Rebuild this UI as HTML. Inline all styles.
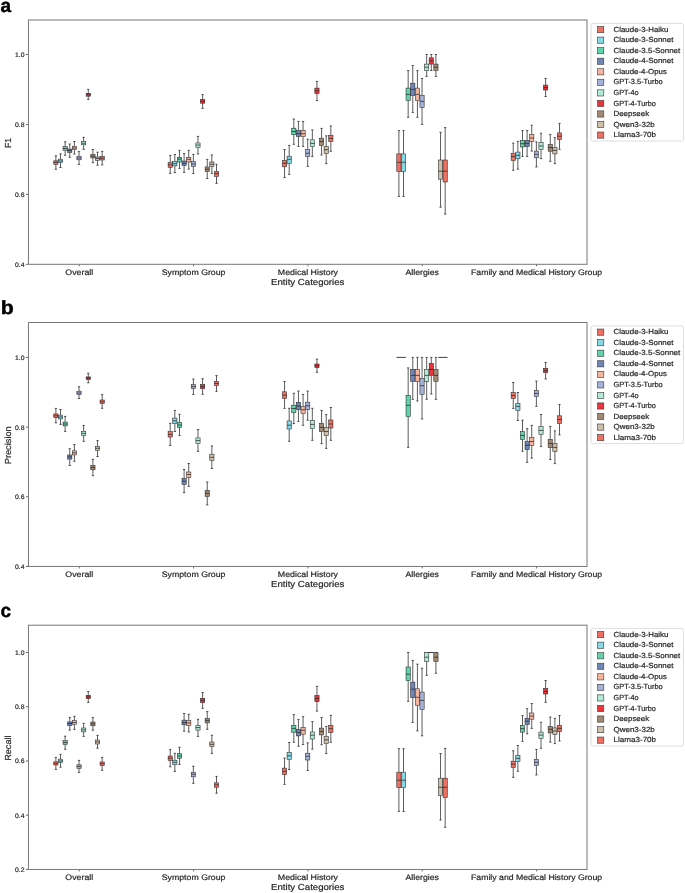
<!DOCTYPE html><html><head><meta charset="utf-8"><style>html,body{margin:0;padding:0;background:#fff;width:685px;height:893px;overflow:hidden}svg{display:block;will-change:transform}text{font-family:"Liberation Sans",sans-serif;fill:#262626;text-rendering:geometricPrecision}</style></head><body>
<svg width="685" height="893" viewBox="0 0 685 893">
<rect x="0" y="0" width="685" height="893" fill="#fff"/>
<text x="0.5" y="11.75" style="font-size:19px;font-weight:700;fill:#000;stroke:#000;stroke-width:0.45px">a</text>
<line x1="25.9" y1="264.30" x2="28.45" y2="264.30" stroke="#444" stroke-width="0.8"/>
<text x="24.50" y="266.75" text-anchor="end" textLength="9.46" lengthAdjust="spacingAndGlyphs" style="font-size:6.55px;stroke:#262626;stroke-width:0.2px">0.4</text>
<line x1="25.9" y1="194.37" x2="28.45" y2="194.37" stroke="#444" stroke-width="0.8"/>
<text x="24.50" y="196.82" text-anchor="end" textLength="9.46" lengthAdjust="spacingAndGlyphs" style="font-size:6.55px;stroke:#262626;stroke-width:0.2px">0.6</text>
<line x1="25.9" y1="124.43" x2="28.45" y2="124.43" stroke="#444" stroke-width="0.8"/>
<text x="24.50" y="126.88" text-anchor="end" textLength="9.46" lengthAdjust="spacingAndGlyphs" style="font-size:6.55px;stroke:#262626;stroke-width:0.2px">0.8</text>
<line x1="25.9" y1="54.50" x2="28.45" y2="54.50" stroke="#444" stroke-width="0.8"/>
<text x="24.50" y="56.95" text-anchor="end" textLength="9.46" lengthAdjust="spacingAndGlyphs" style="font-size:6.55px;stroke:#262626;stroke-width:0.2px">1.0</text>
<text transform="translate(11.30,142.95) rotate(-90)" text-anchor="middle" textLength="10.30" lengthAdjust="spacingAndGlyphs" style="font-size:8.76px;stroke:#262626;stroke-width:0.2px">F1</text>
<line x1="79.26" y1="264.3" x2="79.26" y2="266.30" stroke="#444" stroke-width="0.8"/>
<text x="79.26" y="274.75" text-anchor="middle" textLength="27.88" lengthAdjust="spacingAndGlyphs" style="font-size:8.03px;stroke:#262626;stroke-width:0.2px">Overall</text>
<line x1="193.59" y1="264.3" x2="193.59" y2="266.30" stroke="#444" stroke-width="0.8"/>
<text x="193.59" y="274.75" text-anchor="middle" textLength="63.77" lengthAdjust="spacingAndGlyphs" style="font-size:8.03px;stroke:#262626;stroke-width:0.2px">Symptom Group</text>
<line x1="307.92" y1="264.3" x2="307.92" y2="266.30" stroke="#444" stroke-width="0.8"/>
<text x="307.92" y="274.75" text-anchor="middle" textLength="60.11" lengthAdjust="spacingAndGlyphs" style="font-size:8.03px;stroke:#262626;stroke-width:0.2px">Medical History</text>
<line x1="422.25" y1="264.3" x2="422.25" y2="266.30" stroke="#444" stroke-width="0.8"/>
<text x="422.25" y="274.75" text-anchor="middle" textLength="33.52" lengthAdjust="spacingAndGlyphs" style="font-size:8.03px;stroke:#262626;stroke-width:0.2px">Allergies</text>
<line x1="536.58" y1="264.3" x2="536.58" y2="266.30" stroke="#444" stroke-width="0.8"/>
<text x="536.58" y="274.75" text-anchor="middle" textLength="131.07" lengthAdjust="spacingAndGlyphs" style="font-size:8.03px;stroke:#262626;stroke-width:0.2px">Family and Medical History Group</text>
<text x="307.73" y="284.70" text-anchor="middle" textLength="73.33" lengthAdjust="spacingAndGlyphs" style="font-size:8.76px;stroke:#262626;stroke-width:0.2px">Entity Categories</text>
<g stroke="#262626" stroke-width="0.75" fill="none"><line x1="55.88" y1="155.8" x2="55.88" y2="160.8"/><line x1="55.88" y1="164.3" x2="55.88" y2="169.3"/><line x1="54.73" y1="155.8" x2="57.03" y2="155.8"/><line x1="54.73" y1="169.3" x2="57.03" y2="169.3"/><rect x="53.75" y="160.8" width="4.25" height="3.50" fill="#ec7163" stroke-width="0.55"/><line x1="53.75" y1="162.4" x2="58.00" y2="162.4" stroke-width="0.75"/></g>
<g stroke="#262626" stroke-width="0.75" fill="none"><line x1="60.51" y1="153.9" x2="60.51" y2="159.2"/><line x1="60.51" y1="162.7" x2="60.51" y2="167.5"/><line x1="59.36" y1="153.9" x2="61.66" y2="153.9"/><line x1="59.36" y1="167.5" x2="61.66" y2="167.5"/><rect x="58.38" y="159.2" width="4.25" height="3.50" fill="#86d8e4" stroke-width="0.55"/><line x1="58.38" y1="161.0" x2="62.63" y2="161.0" stroke-width="0.75"/></g>
<g stroke="#262626" stroke-width="0.75" fill="none"><line x1="65.14" y1="141.8" x2="65.14" y2="146.7"/><line x1="65.14" y1="150.3" x2="65.14" y2="155.3"/><line x1="63.99" y1="141.8" x2="66.29" y2="141.8"/><line x1="63.99" y1="155.3" x2="66.29" y2="155.3"/><rect x="63.01" y="146.7" width="4.25" height="3.60" fill="#62d2aa" stroke-width="0.55"/><line x1="63.01" y1="148.5" x2="67.26" y2="148.5" stroke-width="0.75"/></g>
<g stroke="#262626" stroke-width="0.75" fill="none"><line x1="69.76" y1="144.0" x2="69.76" y2="149.1"/><line x1="69.76" y1="152.4" x2="69.76" y2="157.3"/><line x1="68.61" y1="144.0" x2="70.91" y2="144.0"/><line x1="68.61" y1="157.3" x2="70.91" y2="157.3"/><rect x="67.64" y="149.1" width="4.25" height="3.30" fill="#6e85b6" stroke-width="0.55"/><line x1="67.64" y1="150.6" x2="71.89" y2="150.6" stroke-width="0.75"/></g>
<g stroke="#262626" stroke-width="0.75" fill="none"><line x1="74.39" y1="141.5" x2="74.39" y2="146.4"/><line x1="74.39" y1="149.5" x2="74.39" y2="154.0"/><line x1="73.24" y1="141.5" x2="75.54" y2="141.5"/><line x1="73.24" y1="154.0" x2="75.54" y2="154.0"/><rect x="72.27" y="146.4" width="4.25" height="3.10" fill="#f4b5a0" stroke-width="0.55"/><line x1="72.27" y1="148.1" x2="76.52" y2="148.1" stroke-width="0.75"/></g>
<g stroke="#262626" stroke-width="0.75" fill="none"><line x1="79.02" y1="151.6" x2="79.02" y2="156.2"/><line x1="79.02" y1="159.8" x2="79.02" y2="164.4"/><line x1="77.87" y1="151.6" x2="80.17" y2="151.6"/><line x1="77.87" y1="164.4" x2="80.17" y2="164.4"/><rect x="76.89" y="156.2" width="4.25" height="3.60" fill="#a6b2d8" stroke-width="0.55"/><line x1="76.89" y1="158.0" x2="81.14" y2="158.0" stroke-width="0.75"/></g>
<g stroke="#262626" stroke-width="0.75" fill="none"><line x1="83.65" y1="137.3" x2="83.65" y2="141.5"/><line x1="83.65" y1="144.8" x2="83.65" y2="149.4"/><line x1="82.50" y1="137.3" x2="84.80" y2="137.3"/><line x1="82.50" y1="149.4" x2="84.80" y2="149.4"/><rect x="81.52" y="141.5" width="4.25" height="3.30" fill="#b2e8d8" stroke-width="0.55"/><line x1="81.52" y1="143.2" x2="85.77" y2="143.2" stroke-width="0.75"/></g>
<g stroke="#262626" stroke-width="0.75" fill="none"><line x1="88.28" y1="89.4" x2="88.28" y2="93.25"/><line x1="88.28" y1="96.2" x2="88.28" y2="99.4"/><line x1="87.13" y1="89.4" x2="89.43" y2="89.4"/><line x1="87.13" y1="99.4" x2="89.43" y2="99.4"/><rect x="86.15" y="93.25" width="4.25" height="2.95" fill="#e6363c" stroke-width="0.55"/><line x1="86.15" y1="94.7" x2="90.40" y2="94.7" stroke-width="0.75"/></g>
<g stroke="#262626" stroke-width="0.75" fill="none"><line x1="92.90" y1="149.5" x2="92.90" y2="154.6"/><line x1="92.90" y1="157.9" x2="92.90" y2="162.6"/><line x1="91.75" y1="149.5" x2="94.05" y2="149.5"/><line x1="91.75" y1="162.6" x2="94.05" y2="162.6"/><rect x="90.78" y="154.6" width="4.25" height="3.30" fill="#a08a76" stroke-width="0.55"/><line x1="90.78" y1="156.2" x2="95.03" y2="156.2" stroke-width="0.75"/></g>
<g stroke="#262626" stroke-width="0.75" fill="none"><line x1="97.53" y1="152.2" x2="97.53" y2="157.0"/><line x1="97.53" y1="160.3" x2="97.53" y2="165.2"/><line x1="96.38" y1="152.2" x2="98.68" y2="152.2"/><line x1="96.38" y1="165.2" x2="98.68" y2="165.2"/><rect x="95.41" y="157.0" width="4.25" height="3.30" fill="#cdbfaa" stroke-width="0.55"/><line x1="95.41" y1="158.5" x2="99.66" y2="158.5" stroke-width="0.75"/></g>
<g stroke="#262626" stroke-width="0.75" fill="none"><line x1="102.16" y1="151.4" x2="102.16" y2="156.5"/><line x1="102.16" y1="160.0" x2="102.16" y2="164.9"/><line x1="101.01" y1="151.4" x2="103.31" y2="151.4"/><line x1="101.01" y1="164.9" x2="103.31" y2="164.9"/><rect x="100.03" y="156.5" width="4.25" height="3.50" fill="#ec7163" stroke-width="0.55"/><line x1="100.03" y1="158.1" x2="104.28" y2="158.1" stroke-width="0.75"/></g>
<g stroke="#262626" stroke-width="0.75" fill="none"><line x1="170.22" y1="155.4" x2="170.22" y2="162.7"/><line x1="170.22" y1="167.3" x2="170.22" y2="173.4"/><line x1="169.07" y1="155.4" x2="171.37" y2="155.4"/><line x1="169.07" y1="173.4" x2="171.37" y2="173.4"/><rect x="168.10" y="162.7" width="4.25" height="4.60" fill="#ec7163" stroke-width="0.55"/><line x1="168.10" y1="164.9" x2="172.35" y2="164.9" stroke-width="0.75"/></g>
<g stroke="#262626" stroke-width="0.75" fill="none"><line x1="174.85" y1="154.5" x2="174.85" y2="161.4"/><line x1="174.85" y1="165.9" x2="174.85" y2="172.6"/><line x1="173.70" y1="154.5" x2="176.00" y2="154.5"/><line x1="173.70" y1="172.6" x2="176.00" y2="172.6"/><rect x="172.72" y="161.4" width="4.25" height="4.50" fill="#86d8e4" stroke-width="0.55"/><line x1="172.72" y1="163.7" x2="176.97" y2="163.7" stroke-width="0.75"/></g>
<g stroke="#262626" stroke-width="0.75" fill="none"><line x1="179.48" y1="150.4" x2="179.48" y2="157.3"/><line x1="179.48" y1="162.0" x2="179.48" y2="168.4"/><line x1="178.33" y1="150.4" x2="180.63" y2="150.4"/><line x1="178.33" y1="168.4" x2="180.63" y2="168.4"/><rect x="177.35" y="157.3" width="4.25" height="4.70" fill="#62d2aa" stroke-width="0.55"/><line x1="177.35" y1="159.1" x2="181.60" y2="159.1" stroke-width="0.75"/></g>
<g stroke="#262626" stroke-width="0.75" fill="none"><line x1="184.10" y1="153.5" x2="184.10" y2="161.0"/><line x1="184.10" y1="165.6" x2="184.10" y2="172.4"/><line x1="182.95" y1="153.5" x2="185.25" y2="153.5"/><line x1="182.95" y1="172.4" x2="185.25" y2="172.4"/><rect x="181.98" y="161.0" width="4.25" height="4.60" fill="#6e85b6" stroke-width="0.55"/><line x1="181.98" y1="163.3" x2="186.23" y2="163.3" stroke-width="0.75"/></g>
<g stroke="#262626" stroke-width="0.75" fill="none"><line x1="188.73" y1="150.4" x2="188.73" y2="157.3"/><line x1="188.73" y1="162.0" x2="188.73" y2="169.1"/><line x1="187.58" y1="150.4" x2="189.88" y2="150.4"/><line x1="187.58" y1="169.1" x2="189.88" y2="169.1"/><rect x="186.61" y="157.3" width="4.25" height="4.70" fill="#f4b5a0" stroke-width="0.55"/><line x1="186.61" y1="159.3" x2="190.86" y2="159.3" stroke-width="0.75"/></g>
<g stroke="#262626" stroke-width="0.75" fill="none"><line x1="193.36" y1="154.4" x2="193.36" y2="161.7"/><line x1="193.36" y1="166.6" x2="193.36" y2="173.5"/><line x1="192.21" y1="154.4" x2="194.51" y2="154.4"/><line x1="192.21" y1="173.5" x2="194.51" y2="173.5"/><rect x="191.24" y="161.7" width="4.25" height="4.90" fill="#a6b2d8" stroke-width="0.55"/><line x1="191.24" y1="164.0" x2="195.49" y2="164.0" stroke-width="0.75"/></g>
<g stroke="#262626" stroke-width="0.75" fill="none"><line x1="197.99" y1="136.4" x2="197.99" y2="142.9"/><line x1="197.99" y1="147.5" x2="197.99" y2="154.0"/><line x1="196.84" y1="136.4" x2="199.14" y2="136.4"/><line x1="196.84" y1="154.0" x2="199.14" y2="154.0"/><rect x="195.86" y="142.9" width="4.25" height="4.60" fill="#b2e8d8" stroke-width="0.55"/><line x1="195.86" y1="145.1" x2="200.11" y2="145.1" stroke-width="0.75"/></g>
<g stroke="#262626" stroke-width="0.75" fill="none"><line x1="202.62" y1="94.6" x2="202.62" y2="99.4"/><line x1="202.62" y1="103.2" x2="202.62" y2="108.4"/><line x1="201.47" y1="94.6" x2="203.77" y2="94.6"/><line x1="201.47" y1="108.4" x2="203.77" y2="108.4"/><rect x="200.49" y="99.4" width="4.25" height="3.80" fill="#e6363c" stroke-width="0.55"/><line x1="200.49" y1="101.4" x2="204.74" y2="101.4" stroke-width="0.75"/></g>
<g stroke="#262626" stroke-width="0.75" fill="none"><line x1="207.24" y1="159.4" x2="207.24" y2="166.9"/><line x1="207.24" y1="171.7" x2="207.24" y2="178.5"/><line x1="206.09" y1="159.4" x2="208.39" y2="159.4"/><line x1="206.09" y1="178.5" x2="208.39" y2="178.5"/><rect x="205.12" y="166.9" width="4.25" height="4.80" fill="#a08a76" stroke-width="0.55"/><line x1="205.12" y1="169.2" x2="209.37" y2="169.2" stroke-width="0.75"/></g>
<g stroke="#262626" stroke-width="0.75" fill="none"><line x1="211.87" y1="154.9" x2="211.87" y2="162.0"/><line x1="211.87" y1="166.6" x2="211.87" y2="173.4"/><line x1="210.72" y1="154.9" x2="213.02" y2="154.9"/><line x1="210.72" y1="173.4" x2="213.02" y2="173.4"/><rect x="209.75" y="162.0" width="4.25" height="4.60" fill="#cdbfaa" stroke-width="0.55"/><line x1="209.75" y1="164.2" x2="214.00" y2="164.2" stroke-width="0.75"/></g>
<g stroke="#262626" stroke-width="0.75" fill="none"><line x1="216.50" y1="164.3" x2="216.50" y2="171.5"/><line x1="216.50" y1="176.5" x2="216.50" y2="183.4"/><line x1="215.35" y1="164.3" x2="217.65" y2="164.3"/><line x1="215.35" y1="183.4" x2="217.65" y2="183.4"/><rect x="214.38" y="171.5" width="4.25" height="5.00" fill="#ec7163" stroke-width="0.55"/><line x1="214.38" y1="173.7" x2="218.62" y2="173.7" stroke-width="0.75"/></g>
<g stroke="#262626" stroke-width="0.75" fill="none"><line x1="284.56" y1="149.5" x2="284.56" y2="160.3"/><line x1="284.56" y1="166.8" x2="284.56" y2="177.5"/><line x1="283.41" y1="149.5" x2="285.71" y2="149.5"/><line x1="283.41" y1="177.5" x2="285.71" y2="177.5"/><rect x="282.44" y="160.3" width="4.25" height="6.50" fill="#ec7163" stroke-width="0.55"/><line x1="282.44" y1="163.3" x2="286.69" y2="163.3" stroke-width="0.75"/></g>
<g stroke="#262626" stroke-width="0.75" fill="none"><line x1="289.19" y1="145.4" x2="289.19" y2="156.2"/><line x1="289.19" y1="163.6" x2="289.19" y2="174.4"/><line x1="288.04" y1="145.4" x2="290.34" y2="145.4"/><line x1="288.04" y1="174.4" x2="290.34" y2="174.4"/><rect x="287.06" y="156.2" width="4.25" height="7.40" fill="#86d8e4" stroke-width="0.55"/><line x1="287.06" y1="159.3" x2="291.31" y2="159.3" stroke-width="0.75"/></g>
<g stroke="#262626" stroke-width="0.75" fill="none"><line x1="293.82" y1="119.0" x2="293.82" y2="128.2"/><line x1="293.82" y1="134.7" x2="293.82" y2="144.3"/><line x1="292.67" y1="119.0" x2="294.97" y2="119.0"/><line x1="292.67" y1="144.3" x2="294.97" y2="144.3"/><rect x="291.69" y="128.2" width="4.25" height="6.50" fill="#62d2aa" stroke-width="0.55"/><line x1="291.69" y1="131.5" x2="295.94" y2="131.5" stroke-width="0.75"/></g>
<g stroke="#262626" stroke-width="0.75" fill="none"><line x1="298.44" y1="121.4" x2="298.44" y2="130.4"/><line x1="298.44" y1="136.6" x2="298.44" y2="146.4"/><line x1="297.29" y1="121.4" x2="299.59" y2="121.4"/><line x1="297.29" y1="146.4" x2="299.59" y2="146.4"/><rect x="296.32" y="130.4" width="4.25" height="6.20" fill="#6e85b6" stroke-width="0.55"/><line x1="296.32" y1="133.7" x2="300.57" y2="133.7" stroke-width="0.75"/></g>
<g stroke="#262626" stroke-width="0.75" fill="none"><line x1="303.07" y1="121.4" x2="303.07" y2="130.4"/><line x1="303.07" y1="136.6" x2="303.07" y2="146.4"/><line x1="301.92" y1="121.4" x2="304.22" y2="121.4"/><line x1="301.92" y1="146.4" x2="304.22" y2="146.4"/><rect x="300.95" y="130.4" width="4.25" height="6.20" fill="#f4b5a0" stroke-width="0.55"/><line x1="300.95" y1="133.7" x2="305.20" y2="133.7" stroke-width="0.75"/></g>
<g stroke="#262626" stroke-width="0.75" fill="none"><line x1="307.70" y1="139.2" x2="307.70" y2="149.7"/><line x1="307.70" y1="156.6" x2="307.70" y2="166.4"/><line x1="306.55" y1="139.2" x2="308.85" y2="139.2"/><line x1="306.55" y1="166.4" x2="308.85" y2="166.4"/><rect x="305.57" y="149.7" width="4.25" height="6.90" fill="#a6b2d8" stroke-width="0.55"/><line x1="305.57" y1="153.3" x2="309.82" y2="153.3" stroke-width="0.75"/></g>
<g stroke="#262626" stroke-width="0.75" fill="none"><line x1="312.33" y1="129.9" x2="312.33" y2="139.8"/><line x1="312.33" y1="146.6" x2="312.33" y2="156.4"/><line x1="311.18" y1="129.9" x2="313.48" y2="129.9"/><line x1="311.18" y1="156.4" x2="313.48" y2="156.4"/><rect x="310.20" y="139.8" width="4.25" height="6.80" fill="#b2e8d8" stroke-width="0.55"/><line x1="310.20" y1="143.4" x2="314.45" y2="143.4" stroke-width="0.75"/></g>
<g stroke="#262626" stroke-width="0.75" fill="none"><line x1="316.96" y1="81.4" x2="316.96" y2="88.1"/><line x1="316.96" y1="93.7" x2="316.96" y2="100.6"/><line x1="315.81" y1="81.4" x2="318.11" y2="81.4"/><line x1="315.81" y1="100.6" x2="318.11" y2="100.6"/><rect x="314.83" y="88.1" width="4.25" height="5.60" fill="#e6363c" stroke-width="0.55"/><line x1="314.83" y1="90.8" x2="319.08" y2="90.8" stroke-width="0.75"/></g>
<g stroke="#262626" stroke-width="0.75" fill="none"><line x1="321.58" y1="128.4" x2="321.58" y2="138.2"/><line x1="321.58" y1="145.3" x2="321.58" y2="155.0"/><line x1="320.43" y1="128.4" x2="322.73" y2="128.4"/><line x1="320.43" y1="155.0" x2="322.73" y2="155.0"/><rect x="319.46" y="138.2" width="4.25" height="7.10" fill="#a08a76" stroke-width="0.55"/><line x1="319.46" y1="141.5" x2="323.71" y2="141.5" stroke-width="0.75"/></g>
<g stroke="#262626" stroke-width="0.75" fill="none"><line x1="326.21" y1="135.8" x2="326.21" y2="146.4"/><line x1="326.21" y1="153.5" x2="326.21" y2="163.6"/><line x1="325.06" y1="135.8" x2="327.36" y2="135.8"/><line x1="325.06" y1="163.6" x2="327.36" y2="163.6"/><rect x="324.09" y="146.4" width="4.25" height="7.10" fill="#cdbfaa" stroke-width="0.55"/><line x1="324.09" y1="149.7" x2="328.34" y2="149.7" stroke-width="0.75"/></g>
<g stroke="#262626" stroke-width="0.75" fill="none"><line x1="330.84" y1="126.0" x2="330.84" y2="135.3"/><line x1="330.84" y1="141.5" x2="330.84" y2="151.3"/><line x1="329.69" y1="126.0" x2="331.99" y2="126.0"/><line x1="329.69" y1="151.3" x2="331.99" y2="151.3"/><rect x="328.71" y="135.3" width="4.25" height="6.20" fill="#ec7163" stroke-width="0.55"/><line x1="328.71" y1="138.4" x2="332.96" y2="138.4" stroke-width="0.75"/></g>
<g stroke="#262626" stroke-width="0.75" fill="none"><line x1="398.90" y1="130.6" x2="398.90" y2="153.9"/><line x1="398.90" y1="171.3" x2="398.90" y2="196.4"/><line x1="397.75" y1="130.6" x2="400.05" y2="130.6"/><line x1="397.75" y1="196.4" x2="400.05" y2="196.4"/><rect x="396.77" y="153.9" width="4.25" height="17.40" fill="#ec7163" stroke-width="0.55"/><line x1="396.77" y1="162.3" x2="401.02" y2="162.3" stroke-width="0.75"/></g>
<g stroke="#262626" stroke-width="0.75" fill="none"><line x1="403.53" y1="130.6" x2="403.53" y2="153.9"/><line x1="403.53" y1="171.3" x2="403.53" y2="196.4"/><line x1="402.38" y1="130.6" x2="404.68" y2="130.6"/><line x1="402.38" y1="196.4" x2="404.68" y2="196.4"/><rect x="401.40" y="153.9" width="4.25" height="17.40" fill="#86d8e4" stroke-width="0.55"/><line x1="401.40" y1="162.3" x2="405.65" y2="162.3" stroke-width="0.75"/></g>
<g stroke="#262626" stroke-width="0.75" fill="none"><line x1="408.16" y1="70.6" x2="408.16" y2="88.1"/><line x1="408.16" y1="100.4" x2="408.16" y2="117.3"/><line x1="407.01" y1="70.6" x2="409.31" y2="70.6"/><line x1="407.01" y1="117.3" x2="409.31" y2="117.3"/><rect x="406.03" y="88.1" width="4.25" height="12.30" fill="#62d2aa" stroke-width="0.55"/><line x1="406.03" y1="94.4" x2="410.28" y2="94.4" stroke-width="0.75"/></g>
<g stroke="#262626" stroke-width="0.75" fill="none"><line x1="412.78" y1="65.5" x2="412.78" y2="83.2"/><line x1="412.78" y1="95.5" x2="412.78" y2="112.4"/><line x1="411.63" y1="65.5" x2="413.93" y2="65.5"/><line x1="411.63" y1="112.4" x2="413.93" y2="112.4"/><rect x="410.66" y="83.2" width="4.25" height="12.30" fill="#6e85b6" stroke-width="0.55"/><line x1="410.66" y1="89.4" x2="414.91" y2="89.4" stroke-width="0.75"/></g>
<g stroke="#262626" stroke-width="0.75" fill="none"><line x1="417.41" y1="70.6" x2="417.41" y2="88.1"/><line x1="417.41" y1="100.4" x2="417.41" y2="117.3"/><line x1="416.26" y1="70.6" x2="418.56" y2="70.6"/><line x1="416.26" y1="117.3" x2="418.56" y2="117.3"/><rect x="415.29" y="88.1" width="4.25" height="12.30" fill="#f4b5a0" stroke-width="0.55"/><line x1="415.29" y1="94.4" x2="419.54" y2="94.4" stroke-width="0.75"/></g>
<g stroke="#262626" stroke-width="0.75" fill="none"><line x1="422.04" y1="78.5" x2="422.04" y2="95.5"/><line x1="422.04" y1="107.5" x2="422.04" y2="124.4"/><line x1="420.89" y1="78.5" x2="423.19" y2="78.5"/><line x1="420.89" y1="124.4" x2="423.19" y2="124.4"/><rect x="419.91" y="95.5" width="4.25" height="12.00" fill="#a6b2d8" stroke-width="0.55"/><line x1="419.91" y1="101.4" x2="424.16" y2="101.4" stroke-width="0.75"/></g>
<g stroke="#262626" stroke-width="0.75" fill="none"><line x1="426.67" y1="54.5" x2="426.67" y2="64.1"/><line x1="426.67" y1="70.5" x2="426.67" y2="76.4"/><line x1="425.52" y1="54.5" x2="427.82" y2="54.5"/><line x1="425.52" y1="76.4" x2="427.82" y2="76.4"/><rect x="424.54" y="64.1" width="4.25" height="6.40" fill="#b2e8d8" stroke-width="0.55"/><line x1="424.54" y1="67.2" x2="428.79" y2="67.2" stroke-width="0.75"/></g>
<g stroke="#262626" stroke-width="0.75" fill="none"><line x1="431.30" y1="54.5" x2="431.30" y2="57.8"/><line x1="431.30" y1="64.1" x2="431.30" y2="70.5"/><line x1="430.15" y1="54.5" x2="432.45" y2="54.5"/><line x1="430.15" y1="70.5" x2="432.45" y2="70.5"/><rect x="429.17" y="57.8" width="4.25" height="6.30" fill="#e6363c" stroke-width="0.55"/><line x1="429.17" y1="60.9" x2="433.42" y2="60.9" stroke-width="0.75"/></g>
<g stroke="#262626" stroke-width="0.75" fill="none"><line x1="435.92" y1="54.5" x2="435.92" y2="64.1"/><line x1="435.92" y1="70.5" x2="435.92" y2="76.4"/><line x1="434.77" y1="54.5" x2="437.07" y2="54.5"/><line x1="434.77" y1="76.4" x2="437.07" y2="76.4"/><rect x="433.80" y="64.1" width="4.25" height="6.40" fill="#a08a76" stroke-width="0.55"/><line x1="433.80" y1="67.2" x2="438.05" y2="67.2" stroke-width="0.75"/></g>
<g stroke="#262626" stroke-width="0.75" fill="none"><line x1="440.55" y1="132.3" x2="440.55" y2="160.0"/><line x1="440.55" y1="179.2" x2="440.55" y2="207.2"/><line x1="439.40" y1="132.3" x2="441.70" y2="132.3"/><line x1="439.40" y1="207.2" x2="441.70" y2="207.2"/><rect x="438.43" y="160.0" width="4.25" height="19.20" fill="#cdbfaa" stroke-width="0.55"/><line x1="438.43" y1="171.2" x2="442.68" y2="171.2" stroke-width="0.75"/></g>
<g stroke="#262626" stroke-width="0.75" fill="none"><line x1="445.18" y1="127.6" x2="445.18" y2="160.0"/><line x1="445.18" y1="182.0" x2="445.18" y2="214.1"/><line x1="444.03" y1="127.6" x2="446.33" y2="127.6"/><line x1="444.03" y1="214.1" x2="446.33" y2="214.1"/><rect x="443.05" y="160.0" width="4.25" height="22.00" fill="#ec7163" stroke-width="0.55"/><line x1="443.05" y1="171.2" x2="447.30" y2="171.2" stroke-width="0.75"/></g>
<g stroke="#262626" stroke-width="0.75" fill="none"><line x1="513.24" y1="143.1" x2="513.24" y2="153.4"/><line x1="513.24" y1="160.5" x2="513.24" y2="170.3"/><line x1="512.09" y1="143.1" x2="514.39" y2="143.1"/><line x1="512.09" y1="170.3" x2="514.39" y2="170.3"/><rect x="511.12" y="153.4" width="4.25" height="7.10" fill="#ec7163" stroke-width="0.55"/><line x1="511.12" y1="156.6" x2="515.37" y2="156.6" stroke-width="0.75"/></g>
<g stroke="#262626" stroke-width="0.75" fill="none"><line x1="517.87" y1="141.4" x2="517.87" y2="152.1"/><line x1="517.87" y1="158.8" x2="517.87" y2="169.2"/><line x1="516.72" y1="141.4" x2="519.02" y2="141.4"/><line x1="516.72" y1="169.2" x2="519.02" y2="169.2"/><rect x="515.74" y="152.1" width="4.25" height="6.70" fill="#86d8e4" stroke-width="0.55"/><line x1="515.74" y1="155.3" x2="519.99" y2="155.3" stroke-width="0.75"/></g>
<g stroke="#262626" stroke-width="0.75" fill="none"><line x1="522.50" y1="130.6" x2="522.50" y2="140.3"/><line x1="522.50" y1="147.0" x2="522.50" y2="156.4"/><line x1="521.35" y1="130.6" x2="523.65" y2="130.6"/><line x1="521.35" y1="156.4" x2="523.65" y2="156.4"/><rect x="520.37" y="140.3" width="4.25" height="6.70" fill="#62d2aa" stroke-width="0.55"/><line x1="520.37" y1="143.7" x2="524.62" y2="143.7" stroke-width="0.75"/></g>
<g stroke="#262626" stroke-width="0.75" fill="none"><line x1="527.12" y1="130.5" x2="527.12" y2="140.3"/><line x1="527.12" y1="146.6" x2="527.12" y2="156.4"/><line x1="525.97" y1="130.5" x2="528.27" y2="130.5"/><line x1="525.97" y1="156.4" x2="528.27" y2="156.4"/><rect x="525.00" y="140.3" width="4.25" height="6.30" fill="#6e85b6" stroke-width="0.55"/><line x1="525.00" y1="143.3" x2="529.25" y2="143.3" stroke-width="0.75"/></g>
<g stroke="#262626" stroke-width="0.75" fill="none"><line x1="531.75" y1="125.3" x2="531.75" y2="134.6"/><line x1="531.75" y1="141.4" x2="531.75" y2="151.1"/><line x1="530.60" y1="125.3" x2="532.90" y2="125.3"/><line x1="530.60" y1="151.1" x2="532.90" y2="151.1"/><rect x="529.63" y="134.6" width="4.25" height="6.80" fill="#f4b5a0" stroke-width="0.55"/><line x1="529.63" y1="138.0" x2="533.88" y2="138.0" stroke-width="0.75"/></g>
<g stroke="#262626" stroke-width="0.75" fill="none"><line x1="536.38" y1="141.9" x2="536.38" y2="151.1"/><line x1="536.38" y1="157.8" x2="536.38" y2="167.0"/><line x1="535.23" y1="141.9" x2="537.53" y2="141.9"/><line x1="535.23" y1="167.0" x2="537.53" y2="167.0"/><rect x="534.25" y="151.1" width="4.25" height="6.70" fill="#a6b2d8" stroke-width="0.55"/><line x1="534.25" y1="154.3" x2="538.50" y2="154.3" stroke-width="0.75"/></g>
<g stroke="#262626" stroke-width="0.75" fill="none"><line x1="541.01" y1="133.2" x2="541.01" y2="142.5"/><line x1="541.01" y1="149.3" x2="541.01" y2="158.6"/><line x1="539.86" y1="133.2" x2="542.16" y2="133.2"/><line x1="539.86" y1="158.6" x2="542.16" y2="158.6"/><rect x="538.88" y="142.5" width="4.25" height="6.80" fill="#b2e8d8" stroke-width="0.55"/><line x1="538.88" y1="146.0" x2="543.13" y2="146.0" stroke-width="0.75"/></g>
<g stroke="#262626" stroke-width="0.75" fill="none"><line x1="545.64" y1="78.5" x2="545.64" y2="85.1"/><line x1="545.64" y1="90.0" x2="545.64" y2="96.5"/><line x1="544.49" y1="78.5" x2="546.79" y2="78.5"/><line x1="544.49" y1="96.5" x2="546.79" y2="96.5"/><rect x="543.51" y="85.1" width="4.25" height="4.90" fill="#e6363c" stroke-width="0.55"/><line x1="543.51" y1="87.6" x2="547.76" y2="87.6" stroke-width="0.75"/></g>
<g stroke="#262626" stroke-width="0.75" fill="none"><line x1="550.26" y1="134.6" x2="550.26" y2="144.4"/><line x1="550.26" y1="151.2" x2="550.26" y2="161.3"/><line x1="549.11" y1="134.6" x2="551.41" y2="134.6"/><line x1="549.11" y1="161.3" x2="551.41" y2="161.3"/><rect x="548.14" y="144.4" width="4.25" height="6.80" fill="#a08a76" stroke-width="0.55"/><line x1="548.14" y1="147.6" x2="552.39" y2="147.6" stroke-width="0.75"/></g>
<g stroke="#262626" stroke-width="0.75" fill="none"><line x1="554.89" y1="137.6" x2="554.89" y2="147.4"/><line x1="554.89" y1="153.9" x2="554.89" y2="163.7"/><line x1="553.74" y1="137.6" x2="556.04" y2="137.6"/><line x1="553.74" y1="163.7" x2="556.04" y2="163.7"/><rect x="552.77" y="147.4" width="4.25" height="6.50" fill="#cdbfaa" stroke-width="0.55"/><line x1="552.77" y1="150.4" x2="557.02" y2="150.4" stroke-width="0.75"/></g>
<g stroke="#262626" stroke-width="0.75" fill="none"><line x1="559.52" y1="123.4" x2="559.52" y2="132.9"/><line x1="559.52" y1="139.6" x2="559.52" y2="149.3"/><line x1="558.37" y1="123.4" x2="560.67" y2="123.4"/><line x1="558.37" y1="149.3" x2="560.67" y2="149.3"/><rect x="557.39" y="132.9" width="4.25" height="6.70" fill="#ec7163" stroke-width="0.55"/><line x1="557.39" y1="136.2" x2="561.64" y2="136.2" stroke-width="0.75"/></g>
<rect x="28.45" y="20.0" width="558.55" height="244.30" fill="none" stroke="#777" stroke-width="1"/>
<rect x="591" y="23.40" width="92.5" height="117.6" rx="2" ry="2" fill="#fff" fill-opacity="0.8" stroke="#d6d6d6" stroke-width="0.8"/>
<rect x="597.6" y="26.50" width="6.2" height="6.2" fill="#ec7163" stroke="#3a3a3a" stroke-width="0.6"/>
<text x="613.50" y="31.65" text-anchor="start" textLength="54.89" lengthAdjust="spacingAndGlyphs" style="font-size:7.39px;stroke:#262626;stroke-width:0.2px">Claude-3-Haiku</text>
<rect x="597.6" y="37.05" width="6.2" height="6.2" fill="#86d8e4" stroke="#3a3a3a" stroke-width="0.6"/>
<text x="613.50" y="42.20" text-anchor="start" textLength="59.88" lengthAdjust="spacingAndGlyphs" style="font-size:7.39px;stroke:#262626;stroke-width:0.2px">Claude-3-Sonnet</text>
<rect x="597.6" y="47.60" width="6.2" height="6.2" fill="#62d2aa" stroke="#3a3a3a" stroke-width="0.6"/>
<text x="613.50" y="52.75" text-anchor="start" textLength="66.73" lengthAdjust="spacingAndGlyphs" style="font-size:7.39px;stroke:#262626;stroke-width:0.2px">Claude-3.5-Sonnet</text>
<rect x="597.6" y="58.15" width="6.2" height="6.2" fill="#6e85b6" stroke="#3a3a3a" stroke-width="0.6"/>
<text x="613.50" y="63.30" text-anchor="start" textLength="59.88" lengthAdjust="spacingAndGlyphs" style="font-size:7.39px;stroke:#262626;stroke-width:0.2px">Claude-4-Sonnet</text>
<rect x="597.6" y="68.70" width="6.2" height="6.2" fill="#f4b5a0" stroke="#3a3a3a" stroke-width="0.6"/>
<text x="613.50" y="73.85" text-anchor="start" textLength="53.31" lengthAdjust="spacingAndGlyphs" style="font-size:7.39px;stroke:#262626;stroke-width:0.2px">Claude-4-Opus</text>
<rect x="597.6" y="79.25" width="6.2" height="6.2" fill="#a6b2d8" stroke="#3a3a3a" stroke-width="0.6"/>
<text x="613.50" y="84.40" text-anchor="start" textLength="49.24" lengthAdjust="spacingAndGlyphs" style="font-size:7.39px;stroke:#262626;stroke-width:0.2px">GPT-3.5-Turbo</text>
<rect x="597.6" y="89.80" width="6.2" height="6.2" fill="#b2e8d8" stroke="#3a3a3a" stroke-width="0.6"/>
<text x="613.50" y="94.95" text-anchor="start" textLength="25.14" lengthAdjust="spacingAndGlyphs" style="font-size:7.39px;stroke:#262626;stroke-width:0.2px">GPT-4o</text>
<rect x="597.6" y="100.35" width="6.2" height="6.2" fill="#e6363c" stroke="#3a3a3a" stroke-width="0.6"/>
<text x="613.50" y="105.50" text-anchor="start" textLength="42.40" lengthAdjust="spacingAndGlyphs" style="font-size:7.39px;stroke:#262626;stroke-width:0.2px">GPT-4-Turbo</text>
<rect x="597.6" y="110.90" width="6.2" height="6.2" fill="#a08a76" stroke="#3a3a3a" stroke-width="0.6"/>
<text x="613.50" y="116.05" text-anchor="start" textLength="35.60" lengthAdjust="spacingAndGlyphs" style="font-size:7.39px;stroke:#262626;stroke-width:0.2px">Deepseek</text>
<rect x="597.6" y="121.45" width="6.2" height="6.2" fill="#cdbfaa" stroke="#3a3a3a" stroke-width="0.6"/>
<text x="613.50" y="126.60" text-anchor="start" textLength="41.29" lengthAdjust="spacingAndGlyphs" style="font-size:7.39px;stroke:#262626;stroke-width:0.2px">Qwen3-32b</text>
<rect x="597.6" y="132.00" width="6.2" height="6.2" fill="#ec7163" stroke="#3a3a3a" stroke-width="0.6"/>
<text x="613.50" y="137.15" text-anchor="start" textLength="42.58" lengthAdjust="spacingAndGlyphs" style="font-size:7.39px;stroke:#262626;stroke-width:0.2px">Llama3-70b</text>
<text transform="translate(0.65,313.8) scale(1.12,1)" style="font-size:19px;font-weight:700;fill:#000;stroke:#000;stroke-width:0.45px">b</text>
<line x1="25.9" y1="566.45" x2="28.45" y2="566.45" stroke="#444" stroke-width="0.8"/>
<text x="24.50" y="568.90" text-anchor="end" textLength="9.46" lengthAdjust="spacingAndGlyphs" style="font-size:6.55px;stroke:#262626;stroke-width:0.2px">0.4</text>
<line x1="25.9" y1="496.78" x2="28.45" y2="496.78" stroke="#444" stroke-width="0.8"/>
<text x="24.50" y="499.23" text-anchor="end" textLength="9.46" lengthAdjust="spacingAndGlyphs" style="font-size:6.55px;stroke:#262626;stroke-width:0.2px">0.6</text>
<line x1="25.9" y1="427.12" x2="28.45" y2="427.12" stroke="#444" stroke-width="0.8"/>
<text x="24.50" y="429.57" text-anchor="end" textLength="9.46" lengthAdjust="spacingAndGlyphs" style="font-size:6.55px;stroke:#262626;stroke-width:0.2px">0.8</text>
<line x1="25.9" y1="357.45" x2="28.45" y2="357.45" stroke="#444" stroke-width="0.8"/>
<text x="24.50" y="359.90" text-anchor="end" textLength="9.46" lengthAdjust="spacingAndGlyphs" style="font-size:6.55px;stroke:#262626;stroke-width:0.2px">1.0</text>
<text transform="translate(11.30,445.28) rotate(-90)" text-anchor="middle" textLength="37.93" lengthAdjust="spacingAndGlyphs" style="font-size:8.76px;stroke:#262626;stroke-width:0.2px">Precision</text>
<line x1="79.26" y1="566.45" x2="79.26" y2="568.45" stroke="#444" stroke-width="0.8"/>
<text x="79.26" y="576.90" text-anchor="middle" textLength="27.88" lengthAdjust="spacingAndGlyphs" style="font-size:8.03px;stroke:#262626;stroke-width:0.2px">Overall</text>
<line x1="193.59" y1="566.45" x2="193.59" y2="568.45" stroke="#444" stroke-width="0.8"/>
<text x="193.59" y="576.90" text-anchor="middle" textLength="63.77" lengthAdjust="spacingAndGlyphs" style="font-size:8.03px;stroke:#262626;stroke-width:0.2px">Symptom Group</text>
<line x1="307.92" y1="566.45" x2="307.92" y2="568.45" stroke="#444" stroke-width="0.8"/>
<text x="307.92" y="576.90" text-anchor="middle" textLength="60.11" lengthAdjust="spacingAndGlyphs" style="font-size:8.03px;stroke:#262626;stroke-width:0.2px">Medical History</text>
<line x1="422.25" y1="566.45" x2="422.25" y2="568.45" stroke="#444" stroke-width="0.8"/>
<text x="422.25" y="576.90" text-anchor="middle" textLength="33.52" lengthAdjust="spacingAndGlyphs" style="font-size:8.03px;stroke:#262626;stroke-width:0.2px">Allergies</text>
<line x1="536.58" y1="566.45" x2="536.58" y2="568.45" stroke="#444" stroke-width="0.8"/>
<text x="536.58" y="576.90" text-anchor="middle" textLength="131.07" lengthAdjust="spacingAndGlyphs" style="font-size:8.03px;stroke:#262626;stroke-width:0.2px">Family and Medical History Group</text>
<text x="307.73" y="586.85" text-anchor="middle" textLength="73.33" lengthAdjust="spacingAndGlyphs" style="font-size:8.76px;stroke:#262626;stroke-width:0.2px">Entity Categories</text>
<g stroke="#262626" stroke-width="0.75" fill="none"><line x1="55.88" y1="408.4" x2="55.88" y2="413.9"/><line x1="55.88" y1="417.7" x2="55.88" y2="422.8"/><line x1="54.73" y1="408.4" x2="57.03" y2="408.4"/><line x1="54.73" y1="422.8" x2="57.03" y2="422.8"/><rect x="53.75" y="413.9" width="4.25" height="3.80" fill="#ec7163" stroke-width="0.55"/><line x1="53.75" y1="415.8" x2="58.00" y2="415.8" stroke-width="0.75"/></g>
<g stroke="#262626" stroke-width="0.75" fill="none"><line x1="60.51" y1="409.5" x2="60.51" y2="415.1"/><line x1="60.51" y1="418.9" x2="60.51" y2="424.4"/><line x1="59.36" y1="409.5" x2="61.66" y2="409.5"/><line x1="59.36" y1="424.4" x2="61.66" y2="424.4"/><rect x="58.38" y="415.1" width="4.25" height="3.80" fill="#86d8e4" stroke-width="0.55"/><line x1="58.38" y1="417.0" x2="62.63" y2="417.0" stroke-width="0.75"/></g>
<g stroke="#262626" stroke-width="0.75" fill="none"><line x1="65.14" y1="416.4" x2="65.14" y2="422.1"/><line x1="65.14" y1="425.9" x2="65.14" y2="431.4"/><line x1="63.99" y1="416.4" x2="66.29" y2="416.4"/><line x1="63.99" y1="431.4" x2="66.29" y2="431.4"/><rect x="63.01" y="422.1" width="4.25" height="3.80" fill="#62d2aa" stroke-width="0.55"/><line x1="63.01" y1="424.0" x2="67.26" y2="424.0" stroke-width="0.75"/></g>
<g stroke="#262626" stroke-width="0.75" fill="none"><line x1="69.76" y1="448.7" x2="69.76" y2="455.0"/><line x1="69.76" y1="459.1" x2="69.76" y2="465.5"/><line x1="68.61" y1="448.7" x2="70.91" y2="448.7"/><line x1="68.61" y1="465.5" x2="70.91" y2="465.5"/><rect x="67.64" y="455.0" width="4.25" height="4.10" fill="#6e85b6" stroke-width="0.55"/><line x1="67.64" y1="456.9" x2="71.89" y2="456.9" stroke-width="0.75"/></g>
<g stroke="#262626" stroke-width="0.75" fill="none"><line x1="74.39" y1="444.5" x2="74.39" y2="450.8"/><line x1="74.39" y1="454.9" x2="74.39" y2="461.3"/><line x1="73.24" y1="444.5" x2="75.54" y2="444.5"/><line x1="73.24" y1="461.3" x2="75.54" y2="461.3"/><rect x="72.27" y="450.8" width="4.25" height="4.10" fill="#f4b5a0" stroke-width="0.55"/><line x1="72.27" y1="452.8" x2="76.52" y2="452.8" stroke-width="0.75"/></g>
<g stroke="#262626" stroke-width="0.75" fill="none"><line x1="79.02" y1="386.7" x2="79.02" y2="391.2"/><line x1="79.02" y1="394.6" x2="79.02" y2="398.5"/><line x1="77.87" y1="386.7" x2="80.17" y2="386.7"/><line x1="77.87" y1="398.5" x2="80.17" y2="398.5"/><rect x="76.89" y="391.2" width="4.25" height="3.40" fill="#a6b2d8" stroke-width="0.55"/><line x1="76.89" y1="393.0" x2="81.14" y2="393.0" stroke-width="0.75"/></g>
<g stroke="#262626" stroke-width="0.75" fill="none"><line x1="83.65" y1="425.4" x2="83.65" y2="431.3"/><line x1="83.65" y1="435.4" x2="83.65" y2="441.4"/><line x1="82.50" y1="425.4" x2="84.80" y2="425.4"/><line x1="82.50" y1="441.4" x2="84.80" y2="441.4"/><rect x="81.52" y="431.3" width="4.25" height="4.10" fill="#b2e8d8" stroke-width="0.55"/><line x1="81.52" y1="433.4" x2="85.77" y2="433.4" stroke-width="0.75"/></g>
<g stroke="#262626" stroke-width="0.75" fill="none"><line x1="88.28" y1="373.2" x2="88.28" y2="376.9"/><line x1="88.28" y1="379.6" x2="88.28" y2="382.8"/><line x1="87.13" y1="373.2" x2="89.43" y2="373.2"/><line x1="87.13" y1="382.8" x2="89.43" y2="382.8"/><rect x="86.15" y="376.9" width="4.25" height="2.70" fill="#e6363c" stroke-width="0.55"/><line x1="86.15" y1="378.1" x2="90.40" y2="378.1" stroke-width="0.75"/></g>
<g stroke="#262626" stroke-width="0.75" fill="none"><line x1="92.90" y1="459.4" x2="92.90" y2="465.3"/><line x1="92.90" y1="469.8" x2="92.90" y2="475.7"/><line x1="91.75" y1="459.4" x2="94.05" y2="459.4"/><line x1="91.75" y1="475.7" x2="94.05" y2="475.7"/><rect x="90.78" y="465.3" width="4.25" height="4.50" fill="#a08a76" stroke-width="0.55"/><line x1="90.78" y1="467.5" x2="95.03" y2="467.5" stroke-width="0.75"/></g>
<g stroke="#262626" stroke-width="0.75" fill="none"><line x1="97.53" y1="440.6" x2="97.53" y2="446.3"/><line x1="97.53" y1="450.4" x2="97.53" y2="456.5"/><line x1="96.38" y1="440.6" x2="98.68" y2="440.6"/><line x1="96.38" y1="456.5" x2="98.68" y2="456.5"/><rect x="95.41" y="446.3" width="4.25" height="4.10" fill="#cdbfaa" stroke-width="0.55"/><line x1="95.41" y1="448.3" x2="99.66" y2="448.3" stroke-width="0.75"/></g>
<g stroke="#262626" stroke-width="0.75" fill="none"><line x1="102.16" y1="394.6" x2="102.16" y2="400.0"/><line x1="102.16" y1="403.6" x2="102.16" y2="408.3"/><line x1="101.01" y1="394.6" x2="103.31" y2="394.6"/><line x1="101.01" y1="408.3" x2="103.31" y2="408.3"/><rect x="100.03" y="400.0" width="4.25" height="3.60" fill="#ec7163" stroke-width="0.55"/><line x1="100.03" y1="401.8" x2="104.28" y2="401.8" stroke-width="0.75"/></g>
<g stroke="#262626" stroke-width="0.75" fill="none"><line x1="170.22" y1="423.3" x2="170.22" y2="431.5"/><line x1="170.22" y1="437.0" x2="170.22" y2="445.5"/><line x1="169.07" y1="423.3" x2="171.37" y2="423.3"/><line x1="169.07" y1="445.5" x2="171.37" y2="445.5"/><rect x="168.10" y="431.5" width="4.25" height="5.50" fill="#ec7163" stroke-width="0.55"/><line x1="168.10" y1="434.3" x2="172.35" y2="434.3" stroke-width="0.75"/></g>
<g stroke="#262626" stroke-width="0.75" fill="none"><line x1="174.85" y1="410.4" x2="174.85" y2="418.1"/><line x1="174.85" y1="423.5" x2="174.85" y2="431.5"/><line x1="173.70" y1="410.4" x2="176.00" y2="410.4"/><line x1="173.70" y1="431.5" x2="176.00" y2="431.5"/><rect x="172.72" y="418.1" width="4.25" height="5.40" fill="#86d8e4" stroke-width="0.55"/><line x1="172.72" y1="420.8" x2="176.97" y2="420.8" stroke-width="0.75"/></g>
<g stroke="#262626" stroke-width="0.75" fill="none"><line x1="179.48" y1="414.3" x2="179.48" y2="422.3"/><line x1="179.48" y1="427.6" x2="179.48" y2="435.4"/><line x1="178.33" y1="414.3" x2="180.63" y2="414.3"/><line x1="178.33" y1="435.4" x2="180.63" y2="435.4"/><rect x="177.35" y="422.3" width="4.25" height="5.30" fill="#62d2aa" stroke-width="0.55"/><line x1="177.35" y1="425.0" x2="181.60" y2="425.0" stroke-width="0.75"/></g>
<g stroke="#262626" stroke-width="0.75" fill="none"><line x1="184.10" y1="469.5" x2="184.10" y2="478.3"/><line x1="184.10" y1="484.3" x2="184.10" y2="492.6"/><line x1="182.95" y1="469.5" x2="185.25" y2="469.5"/><line x1="182.95" y1="492.6" x2="185.25" y2="492.6"/><rect x="181.98" y="478.3" width="4.25" height="6.00" fill="#6e85b6" stroke-width="0.55"/><line x1="181.98" y1="481.2" x2="186.23" y2="481.2" stroke-width="0.75"/></g>
<g stroke="#262626" stroke-width="0.75" fill="none"><line x1="188.73" y1="463.5" x2="188.73" y2="472.0"/><line x1="188.73" y1="477.6" x2="188.73" y2="486.4"/><line x1="187.58" y1="463.5" x2="189.88" y2="463.5"/><line x1="187.58" y1="486.4" x2="189.88" y2="486.4"/><rect x="186.61" y="472.0" width="4.25" height="5.60" fill="#f4b5a0" stroke-width="0.55"/><line x1="186.61" y1="474.5" x2="190.86" y2="474.5" stroke-width="0.75"/></g>
<g stroke="#262626" stroke-width="0.75" fill="none"><line x1="193.36" y1="379.0" x2="193.36" y2="384.5"/><line x1="193.36" y1="388.7" x2="193.36" y2="394.5"/><line x1="192.21" y1="379.0" x2="194.51" y2="379.0"/><line x1="192.21" y1="394.5" x2="194.51" y2="394.5"/><rect x="191.24" y="384.5" width="4.25" height="4.20" fill="#a6b2d8" stroke-width="0.55"/><line x1="191.24" y1="386.6" x2="195.49" y2="386.6" stroke-width="0.75"/></g>
<g stroke="#262626" stroke-width="0.75" fill="none"><line x1="197.99" y1="429.5" x2="197.99" y2="437.9"/><line x1="197.99" y1="443.7" x2="197.99" y2="451.4"/><line x1="196.84" y1="429.5" x2="199.14" y2="429.5"/><line x1="196.84" y1="451.4" x2="199.14" y2="451.4"/><rect x="195.86" y="437.9" width="4.25" height="5.80" fill="#b2e8d8" stroke-width="0.55"/><line x1="195.86" y1="440.6" x2="200.11" y2="440.6" stroke-width="0.75"/></g>
<g stroke="#262626" stroke-width="0.75" fill="none"><line x1="202.62" y1="378.7" x2="202.62" y2="384.5"/><line x1="202.62" y1="388.7" x2="202.62" y2="394.3"/><line x1="201.47" y1="378.7" x2="203.77" y2="378.7"/><line x1="201.47" y1="394.3" x2="203.77" y2="394.3"/><rect x="200.49" y="384.5" width="4.25" height="4.20" fill="#e6363c" stroke-width="0.55"/><line x1="200.49" y1="386.6" x2="204.74" y2="386.6" stroke-width="0.75"/></g>
<g stroke="#262626" stroke-width="0.75" fill="none"><line x1="207.24" y1="482.0" x2="207.24" y2="490.3"/><line x1="207.24" y1="496.6" x2="207.24" y2="504.9"/><line x1="206.09" y1="482.0" x2="208.39" y2="482.0"/><line x1="206.09" y1="504.9" x2="208.39" y2="504.9"/><rect x="205.12" y="490.3" width="4.25" height="6.30" fill="#a08a76" stroke-width="0.55"/><line x1="205.12" y1="493.3" x2="209.37" y2="493.3" stroke-width="0.75"/></g>
<g stroke="#262626" stroke-width="0.75" fill="none"><line x1="211.87" y1="445.9" x2="211.87" y2="454.2"/><line x1="211.87" y1="460.4" x2="211.87" y2="468.5"/><line x1="210.72" y1="445.9" x2="213.02" y2="445.9"/><line x1="210.72" y1="468.5" x2="213.02" y2="468.5"/><rect x="209.75" y="454.2" width="4.25" height="6.20" fill="#cdbfaa" stroke-width="0.55"/><line x1="209.75" y1="457.3" x2="214.00" y2="457.3" stroke-width="0.75"/></g>
<g stroke="#262626" stroke-width="0.75" fill="none"><line x1="216.50" y1="375.6" x2="216.50" y2="381.5"/><line x1="216.50" y1="385.6" x2="216.50" y2="391.4"/><line x1="215.35" y1="375.6" x2="217.65" y2="375.6"/><line x1="215.35" y1="391.4" x2="217.65" y2="391.4"/><rect x="214.38" y="381.5" width="4.25" height="4.10" fill="#ec7163" stroke-width="0.55"/><line x1="214.38" y1="383.5" x2="218.62" y2="383.5" stroke-width="0.75"/></g>
<g stroke="#262626" stroke-width="0.75" fill="none"><line x1="284.56" y1="381.4" x2="284.56" y2="391.8"/><line x1="284.56" y1="398.5" x2="284.56" y2="408.4"/><line x1="283.41" y1="381.4" x2="285.71" y2="381.4"/><line x1="283.41" y1="408.4" x2="285.71" y2="408.4"/><rect x="282.44" y="391.8" width="4.25" height="6.70" fill="#ec7163" stroke-width="0.55"/><line x1="282.44" y1="395.1" x2="286.69" y2="395.1" stroke-width="0.75"/></g>
<g stroke="#262626" stroke-width="0.75" fill="none"><line x1="289.19" y1="408.3" x2="289.19" y2="420.9"/><line x1="289.19" y1="429.0" x2="289.19" y2="441.3"/><line x1="288.04" y1="408.3" x2="290.34" y2="408.3"/><line x1="288.04" y1="441.3" x2="290.34" y2="441.3"/><rect x="287.06" y="420.9" width="4.25" height="8.10" fill="#86d8e4" stroke-width="0.55"/><line x1="287.06" y1="425.2" x2="291.31" y2="425.2" stroke-width="0.75"/></g>
<g stroke="#262626" stroke-width="0.75" fill="none"><line x1="293.82" y1="393.3" x2="293.82" y2="405.2"/><line x1="293.82" y1="412.5" x2="293.82" y2="423.6"/><line x1="292.67" y1="393.3" x2="294.97" y2="393.3"/><line x1="292.67" y1="423.6" x2="294.97" y2="423.6"/><rect x="291.69" y="405.2" width="4.25" height="7.30" fill="#62d2aa" stroke-width="0.55"/><line x1="291.69" y1="408.5" x2="295.94" y2="408.5" stroke-width="0.75"/></g>
<g stroke="#262626" stroke-width="0.75" fill="none"><line x1="298.44" y1="391.0" x2="298.44" y2="402.3"/><line x1="298.44" y1="409.6" x2="298.44" y2="421.4"/><line x1="297.29" y1="391.0" x2="299.59" y2="391.0"/><line x1="297.29" y1="421.4" x2="299.59" y2="421.4"/><rect x="296.32" y="402.3" width="4.25" height="7.30" fill="#6e85b6" stroke-width="0.55"/><line x1="296.32" y1="406.0" x2="300.57" y2="406.0" stroke-width="0.75"/></g>
<g stroke="#262626" stroke-width="0.75" fill="none"><line x1="303.07" y1="394.4" x2="303.07" y2="406.4"/><line x1="303.07" y1="413.5" x2="303.07" y2="425.3"/><line x1="301.92" y1="394.4" x2="304.22" y2="394.4"/><line x1="301.92" y1="425.3" x2="304.22" y2="425.3"/><rect x="300.95" y="406.4" width="4.25" height="7.10" fill="#f4b5a0" stroke-width="0.55"/><line x1="300.95" y1="409.8" x2="305.20" y2="409.8" stroke-width="0.75"/></g>
<g stroke="#262626" stroke-width="0.75" fill="none"><line x1="307.70" y1="391.0" x2="307.70" y2="402.2"/><line x1="307.70" y1="409.3" x2="307.70" y2="420.3"/><line x1="306.55" y1="391.0" x2="308.85" y2="391.0"/><line x1="306.55" y1="420.3" x2="308.85" y2="420.3"/><rect x="305.57" y="402.2" width="4.25" height="7.10" fill="#a6b2d8" stroke-width="0.55"/><line x1="305.57" y1="405.7" x2="309.82" y2="405.7" stroke-width="0.75"/></g>
<g stroke="#262626" stroke-width="0.75" fill="none"><line x1="312.33" y1="408.3" x2="312.33" y2="420.3"/><line x1="312.33" y1="428.6" x2="312.33" y2="440.3"/><line x1="311.18" y1="408.3" x2="313.48" y2="408.3"/><line x1="311.18" y1="440.3" x2="313.48" y2="440.3"/><rect x="310.20" y="420.3" width="4.25" height="8.30" fill="#b2e8d8" stroke-width="0.55"/><line x1="310.20" y1="424.4" x2="314.45" y2="424.4" stroke-width="0.75"/></g>
<g stroke="#262626" stroke-width="0.75" fill="none"><line x1="316.96" y1="359.1" x2="316.96" y2="364.0"/><line x1="316.96" y1="367.7" x2="316.96" y2="372.3"/><line x1="315.81" y1="359.1" x2="318.11" y2="359.1"/><line x1="315.81" y1="372.3" x2="318.11" y2="372.3"/><rect x="314.83" y="364.0" width="4.25" height="3.70" fill="#e6363c" stroke-width="0.55"/><line x1="314.83" y1="365.8" x2="319.08" y2="365.8" stroke-width="0.75"/></g>
<g stroke="#262626" stroke-width="0.75" fill="none"><line x1="321.58" y1="410.5" x2="321.58" y2="423.3"/><line x1="321.58" y1="431.5" x2="321.58" y2="443.7"/><line x1="320.43" y1="410.5" x2="322.73" y2="410.5"/><line x1="320.43" y1="443.7" x2="322.73" y2="443.7"/><rect x="319.46" y="423.3" width="4.25" height="8.20" fill="#a08a76" stroke-width="0.55"/><line x1="319.46" y1="427.4" x2="323.71" y2="427.4" stroke-width="0.75"/></g>
<g stroke="#262626" stroke-width="0.75" fill="none"><line x1="326.21" y1="414.6" x2="326.21" y2="427.6"/><line x1="326.21" y1="435.6" x2="326.21" y2="448.4"/><line x1="325.06" y1="414.6" x2="327.36" y2="414.6"/><line x1="325.06" y1="448.4" x2="327.36" y2="448.4"/><rect x="324.09" y="427.6" width="4.25" height="8.00" fill="#cdbfaa" stroke-width="0.55"/><line x1="324.09" y1="431.5" x2="328.34" y2="431.5" stroke-width="0.75"/></g>
<g stroke="#262626" stroke-width="0.75" fill="none"><line x1="330.84" y1="407.5" x2="330.84" y2="420.0"/><line x1="330.84" y1="428.0" x2="330.84" y2="440.3"/><line x1="329.69" y1="407.5" x2="331.99" y2="407.5"/><line x1="329.69" y1="440.3" x2="331.99" y2="440.3"/><rect x="328.71" y="420.0" width="4.25" height="8.00" fill="#ec7163" stroke-width="0.55"/><line x1="328.71" y1="424.0" x2="332.96" y2="424.0" stroke-width="0.75"/></g>
<line x1="396.59" y1="357.4" x2="401.21" y2="357.4" stroke="#262626" stroke-width="0.9"/>
<line x1="401.21" y1="357.4" x2="405.84" y2="357.4" stroke="#262626" stroke-width="0.9"/>
<g stroke="#262626" stroke-width="0.75" fill="none"><line x1="408.16" y1="367.9" x2="408.16" y2="395.4"/><line x1="408.16" y1="416.5" x2="408.16" y2="447.4"/><line x1="407.01" y1="367.9" x2="409.31" y2="367.9"/><line x1="407.01" y1="447.4" x2="409.31" y2="447.4"/><rect x="406.03" y="395.4" width="4.25" height="21.10" fill="#62d2aa" stroke-width="0.55"/><line x1="406.03" y1="405.3" x2="410.28" y2="405.3" stroke-width="0.75"/></g>
<g stroke="#262626" stroke-width="0.75" fill="none"><line x1="412.78" y1="357.4" x2="412.78" y2="369.3"/><line x1="412.78" y1="381.3" x2="412.78" y2="399.3"/><line x1="411.63" y1="357.4" x2="413.93" y2="357.4"/><line x1="411.63" y1="399.3" x2="413.93" y2="399.3"/><rect x="410.66" y="369.3" width="4.25" height="12.00" fill="#6e85b6" stroke-width="0.55"/><line x1="410.66" y1="375.4" x2="414.91" y2="375.4" stroke-width="0.75"/></g>
<g stroke="#262626" stroke-width="0.75" fill="none"><line x1="417.41" y1="357.4" x2="417.41" y2="369.3"/><line x1="417.41" y1="381.3" x2="417.41" y2="401.0"/><line x1="416.26" y1="357.4" x2="418.56" y2="357.4"/><line x1="416.26" y1="401.0" x2="418.56" y2="401.0"/><rect x="415.29" y="369.3" width="4.25" height="12.00" fill="#f4b5a0" stroke-width="0.55"/><line x1="415.29" y1="375.4" x2="419.54" y2="375.4" stroke-width="0.75"/></g>
<g stroke="#262626" stroke-width="0.75" fill="none"><line x1="422.04" y1="357.4" x2="422.04" y2="378.5"/><line x1="422.04" y1="394.5" x2="422.04" y2="418.9"/><line x1="420.89" y1="357.4" x2="423.19" y2="357.4"/><line x1="420.89" y1="418.9" x2="423.19" y2="418.9"/><rect x="419.91" y="378.5" width="4.25" height="16.00" fill="#a6b2d8" stroke-width="0.55"/><line x1="419.91" y1="385.7" x2="424.16" y2="385.7" stroke-width="0.75"/></g>
<g stroke="#262626" stroke-width="0.75" fill="none"><line x1="426.67" y1="357.4" x2="426.67" y2="369.3"/><line x1="426.67" y1="381.3" x2="426.67" y2="399.3"/><line x1="425.52" y1="357.4" x2="427.82" y2="357.4"/><line x1="425.52" y1="399.3" x2="427.82" y2="399.3"/><rect x="424.54" y="369.3" width="4.25" height="12.00" fill="#b2e8d8" stroke-width="0.55"/><line x1="424.54" y1="375.4" x2="428.79" y2="375.4" stroke-width="0.75"/></g>
<g stroke="#262626" stroke-width="0.75" fill="none"><line x1="431.30" y1="357.4" x2="431.30" y2="363.4"/><line x1="431.30" y1="375.4" x2="431.30" y2="394.0"/><line x1="430.15" y1="357.4" x2="432.45" y2="357.4"/><line x1="430.15" y1="394.0" x2="432.45" y2="394.0"/><rect x="429.17" y="363.4" width="4.25" height="12.00" fill="#e6363c" stroke-width="0.55"/><line x1="429.17" y1="369.3" x2="433.42" y2="369.3" stroke-width="0.75"/></g>
<g stroke="#262626" stroke-width="0.75" fill="none"><line x1="435.92" y1="357.4" x2="435.92" y2="369.3"/><line x1="435.92" y1="381.3" x2="435.92" y2="399.3"/><line x1="434.77" y1="357.4" x2="437.07" y2="357.4"/><line x1="434.77" y1="399.3" x2="437.07" y2="399.3"/><rect x="433.80" y="369.3" width="4.25" height="12.00" fill="#a08a76" stroke-width="0.55"/><line x1="433.80" y1="375.4" x2="438.05" y2="375.4" stroke-width="0.75"/></g>
<line x1="438.24" y1="357.4" x2="442.87" y2="357.4" stroke="#262626" stroke-width="0.9"/>
<line x1="442.87" y1="357.4" x2="447.49" y2="357.4" stroke="#262626" stroke-width="0.9"/>
<g stroke="#262626" stroke-width="0.75" fill="none"><line x1="513.24" y1="382.5" x2="513.24" y2="392.5"/><line x1="513.24" y1="398.6" x2="513.24" y2="408.4"/><line x1="512.09" y1="382.5" x2="514.39" y2="382.5"/><line x1="512.09" y1="408.4" x2="514.39" y2="408.4"/><rect x="511.12" y="392.5" width="4.25" height="6.10" fill="#ec7163" stroke-width="0.55"/><line x1="511.12" y1="395.6" x2="515.37" y2="395.6" stroke-width="0.75"/></g>
<g stroke="#262626" stroke-width="0.75" fill="none"><line x1="517.87" y1="392.5" x2="517.87" y2="403.3"/><line x1="517.87" y1="410.3" x2="517.87" y2="420.5"/><line x1="516.72" y1="392.5" x2="519.02" y2="392.5"/><line x1="516.72" y1="420.5" x2="519.02" y2="420.5"/><rect x="515.74" y="403.3" width="4.25" height="7.00" fill="#86d8e4" stroke-width="0.55"/><line x1="515.74" y1="406.4" x2="519.99" y2="406.4" stroke-width="0.75"/></g>
<g stroke="#262626" stroke-width="0.75" fill="none"><line x1="522.50" y1="420.2" x2="522.50" y2="431.7"/><line x1="522.50" y1="439.6" x2="522.50" y2="451.3"/><line x1="521.35" y1="420.2" x2="523.65" y2="420.2"/><line x1="521.35" y1="451.3" x2="523.65" y2="451.3"/><rect x="520.37" y="431.7" width="4.25" height="7.90" fill="#62d2aa" stroke-width="0.55"/><line x1="520.37" y1="435.5" x2="524.62" y2="435.5" stroke-width="0.75"/></g>
<g stroke="#262626" stroke-width="0.75" fill="none"><line x1="527.12" y1="428.6" x2="527.12" y2="441.5"/><line x1="527.12" y1="449.7" x2="527.12" y2="462.3"/><line x1="525.97" y1="428.6" x2="528.27" y2="428.6"/><line x1="525.97" y1="462.3" x2="528.27" y2="462.3"/><rect x="525.00" y="441.5" width="4.25" height="8.20" fill="#6e85b6" stroke-width="0.55"/><line x1="525.00" y1="445.3" x2="529.25" y2="445.3" stroke-width="0.75"/></g>
<g stroke="#262626" stroke-width="0.75" fill="none"><line x1="531.75" y1="425.4" x2="531.75" y2="437.4"/><line x1="531.75" y1="445.6" x2="531.75" y2="458.2"/><line x1="530.60" y1="425.4" x2="532.90" y2="425.4"/><line x1="530.60" y1="458.2" x2="532.90" y2="458.2"/><rect x="529.63" y="437.4" width="4.25" height="8.20" fill="#f4b5a0" stroke-width="0.55"/><line x1="529.63" y1="441.5" x2="533.88" y2="441.5" stroke-width="0.75"/></g>
<g stroke="#262626" stroke-width="0.75" fill="none"><line x1="536.38" y1="381.1" x2="536.38" y2="390.4"/><line x1="536.38" y1="396.6" x2="536.38" y2="406.4"/><line x1="535.23" y1="381.1" x2="537.53" y2="381.1"/><line x1="535.23" y1="406.4" x2="537.53" y2="406.4"/><rect x="534.25" y="390.4" width="4.25" height="6.20" fill="#a6b2d8" stroke-width="0.55"/><line x1="534.25" y1="393.4" x2="538.50" y2="393.4" stroke-width="0.75"/></g>
<g stroke="#262626" stroke-width="0.75" fill="none"><line x1="541.01" y1="414.5" x2="541.01" y2="426.4"/><line x1="541.01" y1="434.5" x2="541.01" y2="446.4"/><line x1="539.86" y1="414.5" x2="542.16" y2="414.5"/><line x1="539.86" y1="446.4" x2="542.16" y2="446.4"/><rect x="538.88" y="426.4" width="4.25" height="8.10" fill="#b2e8d8" stroke-width="0.55"/><line x1="538.88" y1="430.4" x2="543.13" y2="430.4" stroke-width="0.75"/></g>
<g stroke="#262626" stroke-width="0.75" fill="none"><line x1="545.64" y1="362.5" x2="545.64" y2="368.3"/><line x1="545.64" y1="372.7" x2="545.64" y2="379.0"/><line x1="544.49" y1="362.5" x2="546.79" y2="362.5"/><line x1="544.49" y1="379.0" x2="546.79" y2="379.0"/><rect x="543.51" y="368.3" width="4.25" height="4.40" fill="#e6363c" stroke-width="0.55"/><line x1="543.51" y1="370.6" x2="547.76" y2="370.6" stroke-width="0.75"/></g>
<g stroke="#262626" stroke-width="0.75" fill="none"><line x1="550.26" y1="426.5" x2="550.26" y2="439.3"/><line x1="550.26" y1="447.6" x2="550.26" y2="459.5"/><line x1="549.11" y1="426.5" x2="551.41" y2="426.5"/><line x1="549.11" y1="459.5" x2="551.41" y2="459.5"/><rect x="548.14" y="439.3" width="4.25" height="8.30" fill="#a08a76" stroke-width="0.55"/><line x1="548.14" y1="443.4" x2="552.39" y2="443.4" stroke-width="0.75"/></g>
<g stroke="#262626" stroke-width="0.75" fill="none"><line x1="554.89" y1="430.9" x2="554.89" y2="443.4"/><line x1="554.89" y1="451.7" x2="554.89" y2="463.6"/><line x1="553.74" y1="430.9" x2="556.04" y2="430.9"/><line x1="553.74" y1="463.6" x2="556.04" y2="463.6"/><rect x="552.77" y="443.4" width="4.25" height="8.30" fill="#cdbfaa" stroke-width="0.55"/><line x1="552.77" y1="447.4" x2="557.02" y2="447.4" stroke-width="0.75"/></g>
<g stroke="#262626" stroke-width="0.75" fill="none"><line x1="559.52" y1="404.6" x2="559.52" y2="415.8"/><line x1="559.52" y1="423.5" x2="559.52" y2="434.9"/><line x1="558.37" y1="404.6" x2="560.67" y2="404.6"/><line x1="558.37" y1="434.9" x2="560.67" y2="434.9"/><rect x="557.39" y="415.8" width="4.25" height="7.70" fill="#ec7163" stroke-width="0.55"/><line x1="557.39" y1="419.5" x2="561.64" y2="419.5" stroke-width="0.75"/></g>
<rect x="28.45" y="322.5" width="558.55" height="243.95" fill="none" stroke="#777" stroke-width="1"/>
<rect x="591" y="325.95" width="92.5" height="117.6" rx="2" ry="2" fill="#fff" fill-opacity="0.8" stroke="#d6d6d6" stroke-width="0.8"/>
<rect x="597.6" y="329.05" width="6.2" height="6.2" fill="#ec7163" stroke="#3a3a3a" stroke-width="0.6"/>
<text x="613.50" y="334.20" text-anchor="start" textLength="54.89" lengthAdjust="spacingAndGlyphs" style="font-size:7.39px;stroke:#262626;stroke-width:0.2px">Claude-3-Haiku</text>
<rect x="597.6" y="339.60" width="6.2" height="6.2" fill="#86d8e4" stroke="#3a3a3a" stroke-width="0.6"/>
<text x="613.50" y="344.75" text-anchor="start" textLength="59.88" lengthAdjust="spacingAndGlyphs" style="font-size:7.39px;stroke:#262626;stroke-width:0.2px">Claude-3-Sonnet</text>
<rect x="597.6" y="350.15" width="6.2" height="6.2" fill="#62d2aa" stroke="#3a3a3a" stroke-width="0.6"/>
<text x="613.50" y="355.30" text-anchor="start" textLength="66.73" lengthAdjust="spacingAndGlyphs" style="font-size:7.39px;stroke:#262626;stroke-width:0.2px">Claude-3.5-Sonnet</text>
<rect x="597.6" y="360.70" width="6.2" height="6.2" fill="#6e85b6" stroke="#3a3a3a" stroke-width="0.6"/>
<text x="613.50" y="365.85" text-anchor="start" textLength="59.88" lengthAdjust="spacingAndGlyphs" style="font-size:7.39px;stroke:#262626;stroke-width:0.2px">Claude-4-Sonnet</text>
<rect x="597.6" y="371.25" width="6.2" height="6.2" fill="#f4b5a0" stroke="#3a3a3a" stroke-width="0.6"/>
<text x="613.50" y="376.40" text-anchor="start" textLength="53.31" lengthAdjust="spacingAndGlyphs" style="font-size:7.39px;stroke:#262626;stroke-width:0.2px">Claude-4-Opus</text>
<rect x="597.6" y="381.80" width="6.2" height="6.2" fill="#a6b2d8" stroke="#3a3a3a" stroke-width="0.6"/>
<text x="613.50" y="386.95" text-anchor="start" textLength="49.24" lengthAdjust="spacingAndGlyphs" style="font-size:7.39px;stroke:#262626;stroke-width:0.2px">GPT-3.5-Turbo</text>
<rect x="597.6" y="392.35" width="6.2" height="6.2" fill="#b2e8d8" stroke="#3a3a3a" stroke-width="0.6"/>
<text x="613.50" y="397.50" text-anchor="start" textLength="25.14" lengthAdjust="spacingAndGlyphs" style="font-size:7.39px;stroke:#262626;stroke-width:0.2px">GPT-4o</text>
<rect x="597.6" y="402.90" width="6.2" height="6.2" fill="#e6363c" stroke="#3a3a3a" stroke-width="0.6"/>
<text x="613.50" y="408.05" text-anchor="start" textLength="42.40" lengthAdjust="spacingAndGlyphs" style="font-size:7.39px;stroke:#262626;stroke-width:0.2px">GPT-4-Turbo</text>
<rect x="597.6" y="413.45" width="6.2" height="6.2" fill="#a08a76" stroke="#3a3a3a" stroke-width="0.6"/>
<text x="613.50" y="418.60" text-anchor="start" textLength="35.60" lengthAdjust="spacingAndGlyphs" style="font-size:7.39px;stroke:#262626;stroke-width:0.2px">Deepseek</text>
<rect x="597.6" y="424.00" width="6.2" height="6.2" fill="#cdbfaa" stroke="#3a3a3a" stroke-width="0.6"/>
<text x="613.50" y="429.15" text-anchor="start" textLength="41.29" lengthAdjust="spacingAndGlyphs" style="font-size:7.39px;stroke:#262626;stroke-width:0.2px">Qwen3-32b</text>
<rect x="597.6" y="434.55" width="6.2" height="6.2" fill="#ec7163" stroke="#3a3a3a" stroke-width="0.6"/>
<text x="613.50" y="439.70" text-anchor="start" textLength="42.58" lengthAdjust="spacingAndGlyphs" style="font-size:7.39px;stroke:#262626;stroke-width:0.2px">Llama3-70b</text>
<text x="0.5" y="616.85" style="font-size:19px;font-weight:700;fill:#000;stroke:#000;stroke-width:0.45px">c</text>
<line x1="25.9" y1="869.49" x2="28.45" y2="869.49" stroke="#444" stroke-width="0.8"/>
<text x="24.50" y="871.94" text-anchor="end" textLength="9.46" lengthAdjust="spacingAndGlyphs" style="font-size:6.55px;stroke:#262626;stroke-width:0.2px">0.2</text>
<line x1="25.9" y1="815.23" x2="28.45" y2="815.23" stroke="#444" stroke-width="0.8"/>
<text x="24.50" y="817.68" text-anchor="end" textLength="9.46" lengthAdjust="spacingAndGlyphs" style="font-size:6.55px;stroke:#262626;stroke-width:0.2px">0.4</text>
<line x1="25.9" y1="760.97" x2="28.45" y2="760.97" stroke="#444" stroke-width="0.8"/>
<text x="24.50" y="763.42" text-anchor="end" textLength="9.46" lengthAdjust="spacingAndGlyphs" style="font-size:6.55px;stroke:#262626;stroke-width:0.2px">0.6</text>
<line x1="25.9" y1="706.71" x2="28.45" y2="706.71" stroke="#444" stroke-width="0.8"/>
<text x="24.50" y="709.16" text-anchor="end" textLength="9.46" lengthAdjust="spacingAndGlyphs" style="font-size:6.55px;stroke:#262626;stroke-width:0.2px">0.8</text>
<line x1="25.9" y1="652.45" x2="28.45" y2="652.45" stroke="#444" stroke-width="0.8"/>
<text x="24.50" y="654.90" text-anchor="end" textLength="9.46" lengthAdjust="spacingAndGlyphs" style="font-size:6.55px;stroke:#262626;stroke-width:0.2px">1.0</text>
<text transform="translate(11.30,748.12) rotate(-90)" text-anchor="middle" textLength="25.36" lengthAdjust="spacingAndGlyphs" style="font-size:8.76px;stroke:#262626;stroke-width:0.2px">Recall</text>
<line x1="79.26" y1="869.45" x2="79.26" y2="871.45" stroke="#444" stroke-width="0.8"/>
<text x="79.26" y="879.90" text-anchor="middle" textLength="27.88" lengthAdjust="spacingAndGlyphs" style="font-size:8.03px;stroke:#262626;stroke-width:0.2px">Overall</text>
<line x1="193.59" y1="869.45" x2="193.59" y2="871.45" stroke="#444" stroke-width="0.8"/>
<text x="193.59" y="879.90" text-anchor="middle" textLength="63.77" lengthAdjust="spacingAndGlyphs" style="font-size:8.03px;stroke:#262626;stroke-width:0.2px">Symptom Group</text>
<line x1="307.92" y1="869.45" x2="307.92" y2="871.45" stroke="#444" stroke-width="0.8"/>
<text x="307.92" y="879.90" text-anchor="middle" textLength="60.11" lengthAdjust="spacingAndGlyphs" style="font-size:8.03px;stroke:#262626;stroke-width:0.2px">Medical History</text>
<line x1="422.25" y1="869.45" x2="422.25" y2="871.45" stroke="#444" stroke-width="0.8"/>
<text x="422.25" y="879.90" text-anchor="middle" textLength="33.52" lengthAdjust="spacingAndGlyphs" style="font-size:8.03px;stroke:#262626;stroke-width:0.2px">Allergies</text>
<line x1="536.58" y1="869.45" x2="536.58" y2="871.45" stroke="#444" stroke-width="0.8"/>
<text x="536.58" y="879.90" text-anchor="middle" textLength="131.07" lengthAdjust="spacingAndGlyphs" style="font-size:8.03px;stroke:#262626;stroke-width:0.2px">Family and Medical History Group</text>
<text x="307.73" y="889.85" text-anchor="middle" textLength="73.33" lengthAdjust="spacingAndGlyphs" style="font-size:8.76px;stroke:#262626;stroke-width:0.2px">Entity Categories</text>
<g stroke="#262626" stroke-width="0.75" fill="none"><line x1="55.88" y1="757.4" x2="55.88" y2="761.8"/><line x1="55.88" y1="765.0" x2="55.88" y2="769.4"/><line x1="54.73" y1="757.4" x2="57.03" y2="757.4"/><line x1="54.73" y1="769.4" x2="57.03" y2="769.4"/><rect x="53.75" y="761.8" width="4.25" height="3.20" fill="#ec7163" stroke-width="0.55"/><line x1="53.75" y1="763.4" x2="58.00" y2="763.4" stroke-width="0.75"/></g>
<g stroke="#262626" stroke-width="0.75" fill="none"><line x1="60.51" y1="754.4" x2="60.51" y2="759.1"/><line x1="60.51" y1="762.6" x2="60.51" y2="767.2"/><line x1="59.36" y1="754.4" x2="61.66" y2="754.4"/><line x1="59.36" y1="767.2" x2="61.66" y2="767.2"/><rect x="58.38" y="759.1" width="4.25" height="3.50" fill="#86d8e4" stroke-width="0.55"/><line x1="58.38" y1="761.0" x2="62.63" y2="761.0" stroke-width="0.75"/></g>
<g stroke="#262626" stroke-width="0.75" fill="none"><line x1="65.14" y1="736.2" x2="65.14" y2="740.7"/><line x1="65.14" y1="744.4" x2="65.14" y2="749.3"/><line x1="63.99" y1="736.2" x2="66.29" y2="736.2"/><line x1="63.99" y1="749.3" x2="66.29" y2="749.3"/><rect x="63.01" y="740.7" width="4.25" height="3.70" fill="#62d2aa" stroke-width="0.55"/><line x1="63.01" y1="742.5" x2="67.26" y2="742.5" stroke-width="0.75"/></g>
<g stroke="#262626" stroke-width="0.75" fill="none"><line x1="69.76" y1="717.4" x2="69.76" y2="721.9"/><line x1="69.76" y1="725.6" x2="69.76" y2="730.1"/><line x1="68.61" y1="717.4" x2="70.91" y2="717.4"/><line x1="68.61" y1="730.1" x2="70.91" y2="730.1"/><rect x="67.64" y="721.9" width="4.25" height="3.70" fill="#6e85b6" stroke-width="0.55"/><line x1="67.64" y1="723.5" x2="71.89" y2="723.5" stroke-width="0.75"/></g>
<g stroke="#262626" stroke-width="0.75" fill="none"><line x1="74.39" y1="716.3" x2="74.39" y2="720.7"/><line x1="74.39" y1="724.3" x2="74.39" y2="729.4"/><line x1="73.24" y1="716.3" x2="75.54" y2="716.3"/><line x1="73.24" y1="729.4" x2="75.54" y2="729.4"/><rect x="72.27" y="720.7" width="4.25" height="3.60" fill="#f4b5a0" stroke-width="0.55"/><line x1="72.27" y1="722.5" x2="76.52" y2="722.5" stroke-width="0.75"/></g>
<g stroke="#262626" stroke-width="0.75" fill="none"><line x1="79.02" y1="760.4" x2="79.02" y2="764.8"/><line x1="79.02" y1="768.3" x2="79.02" y2="772.4"/><line x1="77.87" y1="760.4" x2="80.17" y2="760.4"/><line x1="77.87" y1="772.4" x2="80.17" y2="772.4"/><rect x="76.89" y="764.8" width="4.25" height="3.50" fill="#a6b2d8" stroke-width="0.55"/><line x1="76.89" y1="766.4" x2="81.14" y2="766.4" stroke-width="0.75"/></g>
<g stroke="#262626" stroke-width="0.75" fill="none"><line x1="83.65" y1="723.4" x2="83.65" y2="728.0"/><line x1="83.65" y1="731.9" x2="83.65" y2="736.4"/><line x1="82.50" y1="723.4" x2="84.80" y2="723.4"/><line x1="82.50" y1="736.4" x2="84.80" y2="736.4"/><rect x="81.52" y="728.0" width="4.25" height="3.90" fill="#b2e8d8" stroke-width="0.55"/><line x1="81.52" y1="729.9" x2="85.77" y2="729.9" stroke-width="0.75"/></g>
<g stroke="#262626" stroke-width="0.75" fill="none"><line x1="88.28" y1="691.5" x2="88.28" y2="695.3"/><line x1="88.28" y1="698.6" x2="88.28" y2="702.4"/><line x1="87.13" y1="691.5" x2="89.43" y2="691.5"/><line x1="87.13" y1="702.4" x2="89.43" y2="702.4"/><rect x="86.15" y="695.3" width="4.25" height="3.30" fill="#e6363c" stroke-width="0.55"/><line x1="86.15" y1="697.0" x2="90.40" y2="697.0" stroke-width="0.75"/></g>
<g stroke="#262626" stroke-width="0.75" fill="none"><line x1="92.90" y1="717.6" x2="92.90" y2="722.0"/><line x1="92.90" y1="725.8" x2="92.90" y2="730.2"/><line x1="91.75" y1="717.6" x2="94.05" y2="717.6"/><line x1="91.75" y1="730.2" x2="94.05" y2="730.2"/><rect x="90.78" y="722.0" width="4.25" height="3.80" fill="#a08a76" stroke-width="0.55"/><line x1="90.78" y1="723.9" x2="95.03" y2="723.9" stroke-width="0.75"/></g>
<g stroke="#262626" stroke-width="0.75" fill="none"><line x1="97.53" y1="735.4" x2="97.53" y2="740.0"/><line x1="97.53" y1="744.0" x2="97.53" y2="748.2"/><line x1="96.38" y1="735.4" x2="98.68" y2="735.4"/><line x1="96.38" y1="748.2" x2="98.68" y2="748.2"/><rect x="95.41" y="740.0" width="4.25" height="4.00" fill="#cdbfaa" stroke-width="0.55"/><line x1="95.41" y1="741.9" x2="99.66" y2="741.9" stroke-width="0.75"/></g>
<g stroke="#262626" stroke-width="0.75" fill="none"><line x1="102.16" y1="757.4" x2="102.16" y2="762.0"/><line x1="102.16" y1="765.6" x2="102.16" y2="770.3"/><line x1="101.01" y1="757.4" x2="103.31" y2="757.4"/><line x1="101.01" y1="770.3" x2="103.31" y2="770.3"/><rect x="100.03" y="762.0" width="4.25" height="3.60" fill="#ec7163" stroke-width="0.55"/><line x1="100.03" y1="763.8" x2="104.28" y2="763.8" stroke-width="0.75"/></g>
<g stroke="#262626" stroke-width="0.75" fill="none"><line x1="170.22" y1="749.4" x2="170.22" y2="756.0"/><line x1="170.22" y1="760.5" x2="170.22" y2="766.8"/><line x1="169.07" y1="749.4" x2="171.37" y2="749.4"/><line x1="169.07" y1="766.8" x2="171.37" y2="766.8"/><rect x="168.10" y="756.0" width="4.25" height="4.50" fill="#ec7163" stroke-width="0.55"/><line x1="168.10" y1="758.1" x2="172.35" y2="758.1" stroke-width="0.75"/></g>
<g stroke="#262626" stroke-width="0.75" fill="none"><line x1="174.85" y1="753.3" x2="174.85" y2="760.2"/><line x1="174.85" y1="764.7" x2="174.85" y2="771.4"/><line x1="173.70" y1="753.3" x2="176.00" y2="753.3"/><line x1="173.70" y1="771.4" x2="176.00" y2="771.4"/><rect x="172.72" y="760.2" width="4.25" height="4.50" fill="#86d8e4" stroke-width="0.55"/><line x1="172.72" y1="762.3" x2="176.97" y2="762.3" stroke-width="0.75"/></g>
<g stroke="#262626" stroke-width="0.75" fill="none"><line x1="179.48" y1="747.3" x2="179.48" y2="753.7"/><line x1="179.48" y1="758.3" x2="179.48" y2="764.5"/><line x1="178.33" y1="747.3" x2="180.63" y2="747.3"/><line x1="178.33" y1="764.5" x2="180.63" y2="764.5"/><rect x="177.35" y="753.7" width="4.25" height="4.60" fill="#62d2aa" stroke-width="0.55"/><line x1="177.35" y1="756.0" x2="181.60" y2="756.0" stroke-width="0.75"/></g>
<g stroke="#262626" stroke-width="0.75" fill="none"><line x1="184.10" y1="713.5" x2="184.10" y2="720.1"/><line x1="184.10" y1="724.8" x2="184.10" y2="731.2"/><line x1="182.95" y1="713.5" x2="185.25" y2="713.5"/><line x1="182.95" y1="731.2" x2="185.25" y2="731.2"/><rect x="181.98" y="720.1" width="4.25" height="4.70" fill="#6e85b6" stroke-width="0.55"/><line x1="181.98" y1="722.5" x2="186.23" y2="722.5" stroke-width="0.75"/></g>
<g stroke="#262626" stroke-width="0.75" fill="none"><line x1="188.73" y1="714.3" x2="188.73" y2="720.6"/><line x1="188.73" y1="725.4" x2="188.73" y2="732.0"/><line x1="187.58" y1="714.3" x2="189.88" y2="714.3"/><line x1="187.58" y1="732.0" x2="189.88" y2="732.0"/><rect x="186.61" y="720.6" width="4.25" height="4.80" fill="#f4b5a0" stroke-width="0.55"/><line x1="186.61" y1="722.9" x2="190.86" y2="722.9" stroke-width="0.75"/></g>
<g stroke="#262626" stroke-width="0.75" fill="none"><line x1="193.36" y1="766.2" x2="193.36" y2="772.3"/><line x1="193.36" y1="776.8" x2="193.36" y2="783.3"/><line x1="192.21" y1="766.2" x2="194.51" y2="766.2"/><line x1="192.21" y1="783.3" x2="194.51" y2="783.3"/><rect x="191.24" y="772.3" width="4.25" height="4.50" fill="#a6b2d8" stroke-width="0.55"/><line x1="191.24" y1="774.3" x2="195.49" y2="774.3" stroke-width="0.75"/></g>
<g stroke="#262626" stroke-width="0.75" fill="none"><line x1="197.99" y1="719.3" x2="197.99" y2="725.4"/><line x1="197.99" y1="730.1" x2="197.99" y2="736.4"/><line x1="196.84" y1="719.3" x2="199.14" y2="719.3"/><line x1="196.84" y1="736.4" x2="199.14" y2="736.4"/><rect x="195.86" y="725.4" width="4.25" height="4.70" fill="#b2e8d8" stroke-width="0.55"/><line x1="195.86" y1="727.6" x2="200.11" y2="727.6" stroke-width="0.75"/></g>
<g stroke="#262626" stroke-width="0.75" fill="none"><line x1="202.62" y1="692.5" x2="202.62" y2="698.3"/><line x1="202.62" y1="702.6" x2="202.62" y2="708.3"/><line x1="201.47" y1="692.5" x2="203.77" y2="692.5"/><line x1="201.47" y1="708.3" x2="203.77" y2="708.3"/><rect x="200.49" y="698.3" width="4.25" height="4.30" fill="#e6363c" stroke-width="0.55"/><line x1="200.49" y1="700.4" x2="204.74" y2="700.4" stroke-width="0.75"/></g>
<g stroke="#262626" stroke-width="0.75" fill="none"><line x1="207.24" y1="711.6" x2="207.24" y2="718.3"/><line x1="207.24" y1="722.9" x2="207.24" y2="729.3"/><line x1="206.09" y1="711.6" x2="208.39" y2="711.6"/><line x1="206.09" y1="729.3" x2="208.39" y2="729.3"/><rect x="205.12" y="718.3" width="4.25" height="4.60" fill="#a08a76" stroke-width="0.55"/><line x1="205.12" y1="720.4" x2="209.37" y2="720.4" stroke-width="0.75"/></g>
<g stroke="#262626" stroke-width="0.75" fill="none"><line x1="211.87" y1="735.3" x2="211.87" y2="742.0"/><line x1="211.87" y1="746.6" x2="211.87" y2="753.4"/><line x1="210.72" y1="735.3" x2="213.02" y2="735.3"/><line x1="210.72" y1="753.4" x2="213.02" y2="753.4"/><rect x="209.75" y="742.0" width="4.25" height="4.60" fill="#cdbfaa" stroke-width="0.55"/><line x1="209.75" y1="744.3" x2="214.00" y2="744.3" stroke-width="0.75"/></g>
<g stroke="#262626" stroke-width="0.75" fill="none"><line x1="216.50" y1="776.4" x2="216.50" y2="782.8"/><line x1="216.50" y1="787.3" x2="216.50" y2="793.2"/><line x1="215.35" y1="776.4" x2="217.65" y2="776.4"/><line x1="215.35" y1="793.2" x2="217.65" y2="793.2"/><rect x="214.38" y="782.8" width="4.25" height="4.50" fill="#ec7163" stroke-width="0.55"/><line x1="214.38" y1="784.9" x2="218.62" y2="784.9" stroke-width="0.75"/></g>
<g stroke="#262626" stroke-width="0.75" fill="none"><line x1="284.56" y1="758.1" x2="284.56" y2="768.1"/><line x1="284.56" y1="774.7" x2="284.56" y2="784.4"/><line x1="283.41" y1="758.1" x2="285.71" y2="758.1"/><line x1="283.41" y1="784.4" x2="285.71" y2="784.4"/><rect x="282.44" y="768.1" width="4.25" height="6.60" fill="#ec7163" stroke-width="0.55"/><line x1="282.44" y1="771.3" x2="286.69" y2="771.3" stroke-width="0.75"/></g>
<g stroke="#262626" stroke-width="0.75" fill="none"><line x1="289.19" y1="742.5" x2="289.19" y2="752.4"/><line x1="289.19" y1="759.5" x2="289.19" y2="769.5"/><line x1="288.04" y1="742.5" x2="290.34" y2="742.5"/><line x1="288.04" y1="769.5" x2="290.34" y2="769.5"/><rect x="287.06" y="752.4" width="4.25" height="7.10" fill="#86d8e4" stroke-width="0.55"/><line x1="287.06" y1="755.8" x2="291.31" y2="755.8" stroke-width="0.75"/></g>
<g stroke="#262626" stroke-width="0.75" fill="none"><line x1="293.82" y1="714.6" x2="293.82" y2="725.3"/><line x1="293.82" y1="732.2" x2="293.82" y2="742.3"/><line x1="292.67" y1="714.6" x2="294.97" y2="714.6"/><line x1="292.67" y1="742.3" x2="294.97" y2="742.3"/><rect x="291.69" y="725.3" width="4.25" height="6.90" fill="#62d2aa" stroke-width="0.55"/><line x1="291.69" y1="728.4" x2="295.94" y2="728.4" stroke-width="0.75"/></g>
<g stroke="#262626" stroke-width="0.75" fill="none"><line x1="298.44" y1="719.4" x2="298.44" y2="729.3"/><line x1="298.44" y1="735.9" x2="298.44" y2="746.3"/><line x1="297.29" y1="719.4" x2="299.59" y2="719.4"/><line x1="297.29" y1="746.3" x2="299.59" y2="746.3"/><rect x="296.32" y="729.3" width="4.25" height="6.60" fill="#6e85b6" stroke-width="0.55"/><line x1="296.32" y1="732.4" x2="300.57" y2="732.4" stroke-width="0.75"/></g>
<g stroke="#262626" stroke-width="0.75" fill="none"><line x1="303.07" y1="716.7" x2="303.07" y2="727.3"/><line x1="303.07" y1="734.2" x2="303.07" y2="744.5"/><line x1="301.92" y1="716.7" x2="304.22" y2="716.7"/><line x1="301.92" y1="744.5" x2="304.22" y2="744.5"/><rect x="300.95" y="727.3" width="4.25" height="6.90" fill="#f4b5a0" stroke-width="0.55"/><line x1="300.95" y1="730.3" x2="305.20" y2="730.3" stroke-width="0.75"/></g>
<g stroke="#262626" stroke-width="0.75" fill="none"><line x1="307.70" y1="742.9" x2="307.70" y2="753.2"/><line x1="307.70" y1="760.0" x2="307.70" y2="770.5"/><line x1="306.55" y1="742.9" x2="308.85" y2="742.9"/><line x1="306.55" y1="770.5" x2="308.85" y2="770.5"/><rect x="305.57" y="753.2" width="4.25" height="6.80" fill="#a6b2d8" stroke-width="0.55"/><line x1="305.57" y1="756.3" x2="309.82" y2="756.3" stroke-width="0.75"/></g>
<g stroke="#262626" stroke-width="0.75" fill="none"><line x1="312.33" y1="721.6" x2="312.33" y2="732.0"/><line x1="312.33" y1="739.0" x2="312.33" y2="749.1"/><line x1="311.18" y1="721.6" x2="313.48" y2="721.6"/><line x1="311.18" y1="749.1" x2="313.48" y2="749.1"/><rect x="310.20" y="732.0" width="4.25" height="7.00" fill="#b2e8d8" stroke-width="0.55"/><line x1="310.20" y1="735.2" x2="314.45" y2="735.2" stroke-width="0.75"/></g>
<g stroke="#262626" stroke-width="0.75" fill="none"><line x1="316.96" y1="686.4" x2="316.96" y2="695.4"/><line x1="316.96" y1="701.7" x2="316.96" y2="711.1"/><line x1="315.81" y1="686.4" x2="318.11" y2="686.4"/><line x1="315.81" y1="711.1" x2="318.11" y2="711.1"/><rect x="314.83" y="695.4" width="4.25" height="6.30" fill="#e6363c" stroke-width="0.55"/><line x1="314.83" y1="698.5" x2="319.08" y2="698.5" stroke-width="0.75"/></g>
<g stroke="#262626" stroke-width="0.75" fill="none"><line x1="321.58" y1="717.5" x2="321.58" y2="728.1"/><line x1="321.58" y1="734.9" x2="321.58" y2="744.7"/><line x1="320.43" y1="717.5" x2="322.73" y2="717.5"/><line x1="320.43" y1="744.7" x2="322.73" y2="744.7"/><rect x="319.46" y="728.1" width="4.25" height="6.80" fill="#a08a76" stroke-width="0.55"/><line x1="319.46" y1="731.4" x2="323.71" y2="731.4" stroke-width="0.75"/></g>
<g stroke="#262626" stroke-width="0.75" fill="none"><line x1="326.21" y1="726.5" x2="326.21" y2="736.5"/><line x1="326.21" y1="743.7" x2="326.21" y2="753.5"/><line x1="325.06" y1="726.5" x2="327.36" y2="726.5"/><line x1="325.06" y1="753.5" x2="327.36" y2="753.5"/><rect x="324.09" y="736.5" width="4.25" height="7.20" fill="#cdbfaa" stroke-width="0.55"/><line x1="324.09" y1="739.8" x2="328.34" y2="739.8" stroke-width="0.75"/></g>
<g stroke="#262626" stroke-width="0.75" fill="none"><line x1="330.84" y1="715.4" x2="330.84" y2="725.4"/><line x1="330.84" y1="732.6" x2="330.84" y2="742.3"/><line x1="329.69" y1="715.4" x2="331.99" y2="715.4"/><line x1="329.69" y1="742.3" x2="331.99" y2="742.3"/><rect x="328.71" y="725.4" width="4.25" height="7.20" fill="#ec7163" stroke-width="0.55"/><line x1="328.71" y1="728.7" x2="332.96" y2="728.7" stroke-width="0.75"/></g>
<g stroke="#262626" stroke-width="0.75" fill="none"><line x1="398.90" y1="748.7" x2="398.90" y2="772.2"/><line x1="398.90" y1="787.7" x2="398.90" y2="811.4"/><line x1="397.75" y1="748.7" x2="400.05" y2="748.7"/><line x1="397.75" y1="811.4" x2="400.05" y2="811.4"/><rect x="396.77" y="772.2" width="4.25" height="15.50" fill="#ec7163" stroke-width="0.55"/><line x1="396.77" y1="780.2" x2="401.02" y2="780.2" stroke-width="0.75"/></g>
<g stroke="#262626" stroke-width="0.75" fill="none"><line x1="403.53" y1="748.7" x2="403.53" y2="772.2"/><line x1="403.53" y1="787.7" x2="403.53" y2="811.4"/><line x1="402.38" y1="748.7" x2="404.68" y2="748.7"/><line x1="402.38" y1="811.4" x2="404.68" y2="811.4"/><rect x="401.40" y="772.2" width="4.25" height="15.50" fill="#86d8e4" stroke-width="0.55"/><line x1="401.40" y1="780.2" x2="405.65" y2="780.2" stroke-width="0.75"/></g>
<g stroke="#262626" stroke-width="0.75" fill="none"><line x1="408.16" y1="652.5" x2="408.16" y2="667.0"/><line x1="408.16" y1="680.7" x2="408.16" y2="701.3"/><line x1="407.01" y1="652.5" x2="409.31" y2="652.5"/><line x1="407.01" y1="701.3" x2="409.31" y2="701.3"/><rect x="406.03" y="667.0" width="4.25" height="13.70" fill="#62d2aa" stroke-width="0.55"/><line x1="406.03" y1="674.2" x2="410.28" y2="674.2" stroke-width="0.75"/></g>
<g stroke="#262626" stroke-width="0.75" fill="none"><line x1="412.78" y1="660.4" x2="412.78" y2="682.1"/><line x1="412.78" y1="697.7" x2="412.78" y2="722.4"/><line x1="411.63" y1="660.4" x2="413.93" y2="660.4"/><line x1="411.63" y1="722.4" x2="413.93" y2="722.4"/><rect x="410.66" y="682.1" width="4.25" height="15.60" fill="#6e85b6" stroke-width="0.55"/><line x1="410.66" y1="689.2" x2="414.91" y2="689.2" stroke-width="0.75"/></g>
<g stroke="#262626" stroke-width="0.75" fill="none"><line x1="417.41" y1="664.2" x2="417.41" y2="688.8"/><line x1="417.41" y1="705.2" x2="417.41" y2="730.8"/><line x1="416.26" y1="664.2" x2="418.56" y2="664.2"/><line x1="416.26" y1="730.8" x2="418.56" y2="730.8"/><rect x="415.29" y="688.8" width="4.25" height="16.40" fill="#f4b5a0" stroke-width="0.55"/><line x1="415.29" y1="697.3" x2="419.54" y2="697.3" stroke-width="0.75"/></g>
<g stroke="#262626" stroke-width="0.75" fill="none"><line x1="422.04" y1="668.2" x2="422.04" y2="692.1"/><line x1="422.04" y1="709.4" x2="422.04" y2="735.8"/><line x1="420.89" y1="668.2" x2="423.19" y2="668.2"/><line x1="420.89" y1="735.8" x2="423.19" y2="735.8"/><rect x="419.91" y="692.1" width="4.25" height="17.30" fill="#a6b2d8" stroke-width="0.55"/><line x1="419.91" y1="700.4" x2="424.16" y2="700.4" stroke-width="0.75"/></g>
<g stroke="#262626" stroke-width="0.75" fill="none"><line x1="426.67" y1="652.5" x2="426.67" y2="652.5"/><line x1="426.67" y1="661.5" x2="426.67" y2="675.4"/><line x1="425.52" y1="652.5" x2="427.82" y2="652.5"/><line x1="425.52" y1="675.4" x2="427.82" y2="675.4"/><rect x="424.54" y="652.5" width="4.25" height="9.00" fill="#b2e8d8" stroke-width="0.55"/><line x1="424.54" y1="657.2" x2="428.79" y2="657.2" stroke-width="0.75"/></g>
<line x1="428.98" y1="652.5" x2="433.61" y2="652.5" stroke="#262626" stroke-width="0.9"/>
<g stroke="#262626" stroke-width="0.75" fill="none"><line x1="435.92" y1="652.5" x2="435.92" y2="652.5"/><line x1="435.92" y1="661.5" x2="435.92" y2="673.3"/><line x1="434.77" y1="652.5" x2="437.07" y2="652.5"/><line x1="434.77" y1="673.3" x2="437.07" y2="673.3"/><rect x="433.80" y="652.5" width="4.25" height="9.00" fill="#a08a76" stroke-width="0.55"/><line x1="433.80" y1="657.2" x2="438.05" y2="657.2" stroke-width="0.75"/></g>
<g stroke="#262626" stroke-width="0.75" fill="none"><line x1="440.55" y1="753.5" x2="440.55" y2="778.2"/><line x1="440.55" y1="795.4" x2="440.55" y2="820.0"/><line x1="439.40" y1="753.5" x2="441.70" y2="753.5"/><line x1="439.40" y1="820.0" x2="441.70" y2="820.0"/><rect x="438.43" y="778.2" width="4.25" height="17.20" fill="#cdbfaa" stroke-width="0.55"/><line x1="438.43" y1="787.3" x2="442.68" y2="787.3" stroke-width="0.75"/></g>
<g stroke="#262626" stroke-width="0.75" fill="none"><line x1="445.18" y1="748.4" x2="445.18" y2="778.2"/><line x1="445.18" y1="797.5" x2="445.18" y2="827.3"/><line x1="444.03" y1="748.4" x2="446.33" y2="748.4"/><line x1="444.03" y1="827.3" x2="446.33" y2="827.3"/><rect x="443.05" y="778.2" width="4.25" height="19.30" fill="#ec7163" stroke-width="0.55"/><line x1="443.05" y1="787.3" x2="447.30" y2="787.3" stroke-width="0.75"/></g>
<g stroke="#262626" stroke-width="0.75" fill="none"><line x1="513.24" y1="750.8" x2="513.24" y2="761.2"/><line x1="513.24" y1="767.6" x2="513.24" y2="777.4"/><line x1="512.09" y1="750.8" x2="514.39" y2="750.8"/><line x1="512.09" y1="777.4" x2="514.39" y2="777.4"/><rect x="511.12" y="761.2" width="4.25" height="6.40" fill="#ec7163" stroke-width="0.55"/><line x1="511.12" y1="764.2" x2="515.37" y2="764.2" stroke-width="0.75"/></g>
<g stroke="#262626" stroke-width="0.75" fill="none"><line x1="517.87" y1="745.5" x2="517.87" y2="755.3"/><line x1="517.87" y1="761.7" x2="517.87" y2="771.3"/><line x1="516.72" y1="745.5" x2="519.02" y2="745.5"/><line x1="516.72" y1="771.3" x2="519.02" y2="771.3"/><rect x="515.74" y="755.3" width="4.25" height="6.40" fill="#86d8e4" stroke-width="0.55"/><line x1="515.74" y1="758.4" x2="519.99" y2="758.4" stroke-width="0.75"/></g>
<g stroke="#262626" stroke-width="0.75" fill="none"><line x1="522.50" y1="715.6" x2="522.50" y2="725.4"/><line x1="522.50" y1="732.1" x2="522.50" y2="741.4"/><line x1="521.35" y1="715.6" x2="523.65" y2="715.6"/><line x1="521.35" y1="741.4" x2="523.65" y2="741.4"/><rect x="520.37" y="725.4" width="4.25" height="6.70" fill="#62d2aa" stroke-width="0.55"/><line x1="520.37" y1="728.7" x2="524.62" y2="728.7" stroke-width="0.75"/></g>
<g stroke="#262626" stroke-width="0.75" fill="none"><line x1="527.12" y1="708.6" x2="527.12" y2="718.3"/><line x1="527.12" y1="724.6" x2="527.12" y2="733.8"/><line x1="525.97" y1="708.6" x2="528.27" y2="708.6"/><line x1="525.97" y1="733.8" x2="528.27" y2="733.8"/><rect x="525.00" y="718.3" width="4.25" height="6.30" fill="#6e85b6" stroke-width="0.55"/><line x1="525.00" y1="721.2" x2="529.25" y2="721.2" stroke-width="0.75"/></g>
<g stroke="#262626" stroke-width="0.75" fill="none"><line x1="531.75" y1="703.5" x2="531.75" y2="713.0"/><line x1="531.75" y1="719.2" x2="531.75" y2="728.4"/><line x1="530.60" y1="703.5" x2="532.90" y2="703.5"/><line x1="530.60" y1="728.4" x2="532.90" y2="728.4"/><rect x="529.63" y="713.0" width="4.25" height="6.20" fill="#f4b5a0" stroke-width="0.55"/><line x1="529.63" y1="716.1" x2="533.88" y2="716.1" stroke-width="0.75"/></g>
<g stroke="#262626" stroke-width="0.75" fill="none"><line x1="536.38" y1="749.4" x2="536.38" y2="759.3"/><line x1="536.38" y1="765.7" x2="536.38" y2="775.0"/><line x1="535.23" y1="749.4" x2="537.53" y2="749.4"/><line x1="535.23" y1="775.0" x2="537.53" y2="775.0"/><rect x="534.25" y="759.3" width="4.25" height="6.40" fill="#a6b2d8" stroke-width="0.55"/><line x1="534.25" y1="762.3" x2="538.50" y2="762.3" stroke-width="0.75"/></g>
<g stroke="#262626" stroke-width="0.75" fill="none"><line x1="541.01" y1="722.3" x2="541.01" y2="732.1"/><line x1="541.01" y1="738.5" x2="541.01" y2="748.3"/><line x1="539.86" y1="722.3" x2="542.16" y2="722.3"/><line x1="539.86" y1="748.3" x2="542.16" y2="748.3"/><rect x="538.88" y="732.1" width="4.25" height="6.40" fill="#b2e8d8" stroke-width="0.55"/><line x1="538.88" y1="735.1" x2="543.13" y2="735.1" stroke-width="0.75"/></g>
<g stroke="#262626" stroke-width="0.75" fill="none"><line x1="545.64" y1="680.5" x2="545.64" y2="688.4"/><line x1="545.64" y1="694.0" x2="545.64" y2="702.3"/><line x1="544.49" y1="680.5" x2="546.79" y2="680.5"/><line x1="544.49" y1="702.3" x2="546.79" y2="702.3"/><rect x="543.51" y="688.4" width="4.25" height="5.60" fill="#e6363c" stroke-width="0.55"/><line x1="543.51" y1="691.4" x2="547.76" y2="691.4" stroke-width="0.75"/></g>
<g stroke="#262626" stroke-width="0.75" fill="none"><line x1="550.26" y1="717.0" x2="550.26" y2="726.5"/><line x1="550.26" y1="732.9" x2="550.26" y2="742.2"/><line x1="549.11" y1="717.0" x2="551.41" y2="717.0"/><line x1="549.11" y1="742.2" x2="551.41" y2="742.2"/><rect x="548.14" y="726.5" width="4.25" height="6.40" fill="#a08a76" stroke-width="0.55"/><line x1="548.14" y1="729.3" x2="552.39" y2="729.3" stroke-width="0.75"/></g>
<g stroke="#262626" stroke-width="0.75" fill="none"><line x1="554.89" y1="718.3" x2="554.89" y2="727.9"/><line x1="554.89" y1="734.3" x2="554.89" y2="743.6"/><line x1="553.74" y1="718.3" x2="556.04" y2="718.3"/><line x1="553.74" y1="743.6" x2="556.04" y2="743.6"/><rect x="552.77" y="727.9" width="4.25" height="6.40" fill="#cdbfaa" stroke-width="0.55"/><line x1="552.77" y1="731.0" x2="557.02" y2="731.0" stroke-width="0.75"/></g>
<g stroke="#262626" stroke-width="0.75" fill="none"><line x1="559.52" y1="715.6" x2="559.52" y2="725.4"/><line x1="559.52" y1="731.7" x2="559.52" y2="741.0"/><line x1="558.37" y1="715.6" x2="560.67" y2="715.6"/><line x1="558.37" y1="741.0" x2="560.67" y2="741.0"/><rect x="557.39" y="725.4" width="4.25" height="6.30" fill="#ec7163" stroke-width="0.55"/><line x1="557.39" y1="728.4" x2="561.64" y2="728.4" stroke-width="0.75"/></g>
<rect x="28.45" y="625.2" width="558.55" height="244.25" fill="none" stroke="#777" stroke-width="1"/>
<rect x="591" y="628.45" width="92.5" height="117.6" rx="2" ry="2" fill="#fff" fill-opacity="0.8" stroke="#d6d6d6" stroke-width="0.8"/>
<rect x="597.6" y="631.55" width="6.2" height="6.2" fill="#ec7163" stroke="#3a3a3a" stroke-width="0.6"/>
<text x="613.50" y="636.70" text-anchor="start" textLength="54.89" lengthAdjust="spacingAndGlyphs" style="font-size:7.39px;stroke:#262626;stroke-width:0.2px">Claude-3-Haiku</text>
<rect x="597.6" y="642.10" width="6.2" height="6.2" fill="#86d8e4" stroke="#3a3a3a" stroke-width="0.6"/>
<text x="613.50" y="647.25" text-anchor="start" textLength="59.88" lengthAdjust="spacingAndGlyphs" style="font-size:7.39px;stroke:#262626;stroke-width:0.2px">Claude-3-Sonnet</text>
<rect x="597.6" y="652.65" width="6.2" height="6.2" fill="#62d2aa" stroke="#3a3a3a" stroke-width="0.6"/>
<text x="613.50" y="657.80" text-anchor="start" textLength="66.73" lengthAdjust="spacingAndGlyphs" style="font-size:7.39px;stroke:#262626;stroke-width:0.2px">Claude-3.5-Sonnet</text>
<rect x="597.6" y="663.20" width="6.2" height="6.2" fill="#6e85b6" stroke="#3a3a3a" stroke-width="0.6"/>
<text x="613.50" y="668.35" text-anchor="start" textLength="59.88" lengthAdjust="spacingAndGlyphs" style="font-size:7.39px;stroke:#262626;stroke-width:0.2px">Claude-4-Sonnet</text>
<rect x="597.6" y="673.75" width="6.2" height="6.2" fill="#f4b5a0" stroke="#3a3a3a" stroke-width="0.6"/>
<text x="613.50" y="678.90" text-anchor="start" textLength="53.31" lengthAdjust="spacingAndGlyphs" style="font-size:7.39px;stroke:#262626;stroke-width:0.2px">Claude-4-Opus</text>
<rect x="597.6" y="684.30" width="6.2" height="6.2" fill="#a6b2d8" stroke="#3a3a3a" stroke-width="0.6"/>
<text x="613.50" y="689.45" text-anchor="start" textLength="49.24" lengthAdjust="spacingAndGlyphs" style="font-size:7.39px;stroke:#262626;stroke-width:0.2px">GPT-3.5-Turbo</text>
<rect x="597.6" y="694.85" width="6.2" height="6.2" fill="#b2e8d8" stroke="#3a3a3a" stroke-width="0.6"/>
<text x="613.50" y="700.00" text-anchor="start" textLength="25.14" lengthAdjust="spacingAndGlyphs" style="font-size:7.39px;stroke:#262626;stroke-width:0.2px">GPT-4o</text>
<rect x="597.6" y="705.40" width="6.2" height="6.2" fill="#e6363c" stroke="#3a3a3a" stroke-width="0.6"/>
<text x="613.50" y="710.55" text-anchor="start" textLength="42.40" lengthAdjust="spacingAndGlyphs" style="font-size:7.39px;stroke:#262626;stroke-width:0.2px">GPT-4-Turbo</text>
<rect x="597.6" y="715.95" width="6.2" height="6.2" fill="#a08a76" stroke="#3a3a3a" stroke-width="0.6"/>
<text x="613.50" y="721.10" text-anchor="start" textLength="35.60" lengthAdjust="spacingAndGlyphs" style="font-size:7.39px;stroke:#262626;stroke-width:0.2px">Deepseek</text>
<rect x="597.6" y="726.50" width="6.2" height="6.2" fill="#cdbfaa" stroke="#3a3a3a" stroke-width="0.6"/>
<text x="613.50" y="731.65" text-anchor="start" textLength="41.29" lengthAdjust="spacingAndGlyphs" style="font-size:7.39px;stroke:#262626;stroke-width:0.2px">Qwen3-32b</text>
<rect x="597.6" y="737.05" width="6.2" height="6.2" fill="#ec7163" stroke="#3a3a3a" stroke-width="0.6"/>
<text x="613.50" y="742.20" text-anchor="start" textLength="42.58" lengthAdjust="spacingAndGlyphs" style="font-size:7.39px;stroke:#262626;stroke-width:0.2px">Llama3-70b</text>
</svg></body></html>
